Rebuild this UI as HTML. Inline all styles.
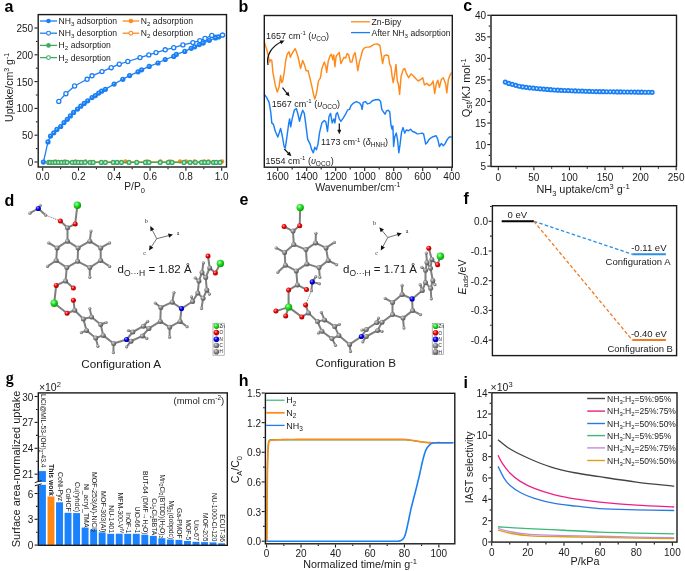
<!DOCTYPE html><html><head><meta charset="utf-8"><style>html,body{margin:0;padding:0;background:#fff;}svg{display:block;will-change:transform;}text{font-family:"Liberation Sans",sans-serif;}</style></head><body><svg width="685" height="571" viewBox="0 0 685 571" font-family='"Liberation Sans", sans-serif'><defs><radialGradient id="gZn" cx="0.38" cy="0.35" r="0.7"><stop offset="0" stop-color="#b8ffb8"/><stop offset="0.45" stop-color="#1ee01e"/><stop offset="1" stop-color="#0a900a"/></radialGradient><radialGradient id="gO" cx="0.38" cy="0.35" r="0.7"><stop offset="0" stop-color="#ffb0b0"/><stop offset="0.45" stop-color="#f00000"/><stop offset="1" stop-color="#a00000"/></radialGradient><radialGradient id="gN" cx="0.38" cy="0.35" r="0.7"><stop offset="0" stop-color="#a0a0ff"/><stop offset="0.45" stop-color="#0000f0"/><stop offset="1" stop-color="#00009a"/></radialGradient><radialGradient id="gC" cx="0.38" cy="0.35" r="0.7"><stop offset="0" stop-color="#d8d8d8"/><stop offset="0.45" stop-color="#8a8a8a"/><stop offset="1" stop-color="#4a4a4a"/></radialGradient><radialGradient id="gH" cx="0.38" cy="0.35" r="0.7"><stop offset="0" stop-color="#e0e0e0"/><stop offset="0.45" stop-color="#999999"/><stop offset="1" stop-color="#5a5a5a"/></radialGradient></defs><rect width="685" height="571" fill="#fff"/><line x1="47" y1="161.9" x2="222" y2="161.9" stroke="#ff8a1c" stroke-width="1.1" />
<circle cx="55.5" cy="161.5" r="2.2" fill="#ff8a1c"/>
<circle cx="64.8" cy="161.5" r="2.2" fill="#ff8a1c"/>
<circle cx="75.5" cy="161.5" r="2.2" fill="#ff8a1c"/>
<circle cx="85.5" cy="161.5" r="2.2" fill="#ff8a1c"/>
<circle cx="125.4" cy="161.5" r="2.2" fill="#ff8a1c"/>
<circle cx="147" cy="161.5" r="2.2" fill="#ff8a1c"/>
<circle cx="160.5" cy="161.5" r="2.2" fill="#ff8a1c"/>
<circle cx="170" cy="161.5" r="2.2" fill="#ff8a1c"/>
<circle cx="180" cy="161.5" r="2.2" fill="#ff8a1c"/>
<circle cx="186" cy="161.5" r="2.2" fill="#ff8a1c"/>
<circle cx="194.5" cy="161.5" r="2.2" fill="#ff8a1c"/>
<circle cx="204" cy="161.5" r="2.2" fill="#ff8a1c"/>
<circle cx="208.5" cy="161.5" r="2.2" fill="#ff8a1c"/>
<circle cx="222" cy="161.5" r="2.2" fill="#ff8a1c"/>
<line x1="47" y1="162.4" x2="220" y2="162.4" stroke="#3cab62" stroke-width="1.1" />
<circle cx="48.7" cy="162.4" r="1.9" fill="#c4e8cf" stroke="#3cab62" stroke-width="1.4"/>
<circle cx="50.2" cy="162.4" r="1.9" fill="#c4e8cf" stroke="#3cab62" stroke-width="1.4"/>
<circle cx="52.8" cy="162.4" r="1.9" fill="#c4e8cf" stroke="#3cab62" stroke-width="1.4"/>
<circle cx="55.3" cy="162.4" r="1.9" fill="#c4e8cf" stroke="#3cab62" stroke-width="1.4"/>
<circle cx="58.4" cy="162.4" r="1.9" fill="#c4e8cf" stroke="#3cab62" stroke-width="1.4"/>
<circle cx="61.5" cy="162.4" r="1.9" fill="#c4e8cf" stroke="#3cab62" stroke-width="1.4"/>
<circle cx="64.5" cy="162.4" r="1.9" fill="#c4e8cf" stroke="#3cab62" stroke-width="1.4"/>
<circle cx="67.1" cy="162.4" r="1.9" fill="#c4e8cf" stroke="#3cab62" stroke-width="1.4"/>
<circle cx="72.2" cy="162.4" r="1.9" fill="#c4e8cf" stroke="#3cab62" stroke-width="1.4"/>
<circle cx="75.3" cy="162.4" r="1.9" fill="#c4e8cf" stroke="#3cab62" stroke-width="1.4"/>
<circle cx="78.3" cy="162.4" r="1.9" fill="#c4e8cf" stroke="#3cab62" stroke-width="1.4"/>
<circle cx="81.4" cy="162.4" r="1.9" fill="#c4e8cf" stroke="#3cab62" stroke-width="1.4"/>
<circle cx="85" cy="162.4" r="1.9" fill="#c4e8cf" stroke="#3cab62" stroke-width="1.4"/>
<circle cx="90.1" cy="162.4" r="1.9" fill="#c4e8cf" stroke="#3cab62" stroke-width="1.4"/>
<circle cx="93.1" cy="162.4" r="1.9" fill="#c4e8cf" stroke="#3cab62" stroke-width="1.4"/>
<circle cx="101.3" cy="162.4" r="1.9" fill="#c4e8cf" stroke="#3cab62" stroke-width="1.4"/>
<circle cx="105.4" cy="162.4" r="1.9" fill="#c4e8cf" stroke="#3cab62" stroke-width="1.4"/>
<circle cx="113.2" cy="162.4" r="1.9" fill="#c4e8cf" stroke="#3cab62" stroke-width="1.4"/>
<circle cx="117.1" cy="162.4" r="1.9" fill="#c4e8cf" stroke="#3cab62" stroke-width="1.4"/>
<circle cx="121.4" cy="162.4" r="1.9" fill="#c4e8cf" stroke="#3cab62" stroke-width="1.4"/>
<circle cx="129" cy="162.4" r="1.9" fill="#c4e8cf" stroke="#3cab62" stroke-width="1.4"/>
<circle cx="136.7" cy="162.4" r="1.9" fill="#c4e8cf" stroke="#3cab62" stroke-width="1.4"/>
<circle cx="145.4" cy="162.4" r="1.9" fill="#c4e8cf" stroke="#3cab62" stroke-width="1.4"/>
<circle cx="148.9" cy="162.4" r="1.9" fill="#c4e8cf" stroke="#3cab62" stroke-width="1.4"/>
<circle cx="160.2" cy="162.4" r="1.9" fill="#c4e8cf" stroke="#3cab62" stroke-width="1.4"/>
<circle cx="168.3" cy="162.4" r="1.9" fill="#c4e8cf" stroke="#3cab62" stroke-width="1.4"/>
<circle cx="172.1" cy="162.4" r="1.9" fill="#c4e8cf" stroke="#3cab62" stroke-width="1.4"/>
<circle cx="184" cy="162.4" r="1.9" fill="#c4e8cf" stroke="#3cab62" stroke-width="1.4"/>
<circle cx="190.1" cy="162.4" r="1.9" fill="#c4e8cf" stroke="#3cab62" stroke-width="1.4"/>
<circle cx="195.4" cy="162.4" r="1.9" fill="#c4e8cf" stroke="#3cab62" stroke-width="1.4"/>
<circle cx="201.5" cy="162.4" r="1.9" fill="#c4e8cf" stroke="#3cab62" stroke-width="1.4"/>
<circle cx="204.8" cy="162.4" r="1.9" fill="#c4e8cf" stroke="#3cab62" stroke-width="1.4"/>
<circle cx="208.2" cy="162.4" r="1.9" fill="#c4e8cf" stroke="#3cab62" stroke-width="1.4"/>
<circle cx="213.4" cy="162.4" r="1.9" fill="#c4e8cf" stroke="#3cab62" stroke-width="1.4"/>
<circle cx="216.2" cy="162.4" r="1.9" fill="#c4e8cf" stroke="#3cab62" stroke-width="1.4"/>
<circle cx="220" cy="162.4" r="1.9" fill="#c4e8cf" stroke="#3cab62" stroke-width="1.4"/>
<polyline points="43.4,162.1 48,141.9 50.5,136.1 53.8,132.8 56.9,129.4 60.7,126.5 64,122.6 67.3,119.3 70.4,115.9 73.6,112.4 77.5,109.1 80.8,106.2 84.2,103.4 87.7,100.8 92,97.6 95.4,95.6 98.7,93.1 101.6,91.2 105.4,89.3 114.1,84.1 122.8,79.3 129.6,75.6 138,71.8 141.6,69.8 149.2,66.4 158,63 165.2,59.5 173.7,56.4 176.3,54.4 184.8,51.4 191.2,48.3 194.7,46.8 199.3,44.6 203.2,43.1 209.3,40.3 215.4,38 218.5,37 222.5,35.1" stroke="#1a7ff5" stroke-width="1.3" fill="none" stroke-linejoin="round" stroke-linecap="round" />
<circle cx="43.4" cy="162.1" r="2.6" fill="#1a7ff5"/>
<circle cx="43.1" cy="161.6" r="0.6" fill="#bfe0ff"/>
<circle cx="48" cy="141.9" r="2.6" fill="#1a7ff5"/>
<circle cx="47.7" cy="141.4" r="0.6" fill="#bfe0ff"/>
<circle cx="50.5" cy="136.1" r="2.6" fill="#1a7ff5"/>
<circle cx="50.2" cy="135.6" r="0.6" fill="#bfe0ff"/>
<circle cx="53.8" cy="132.8" r="2.6" fill="#1a7ff5"/>
<circle cx="53.5" cy="132.3" r="0.6" fill="#bfe0ff"/>
<circle cx="56.9" cy="129.4" r="2.6" fill="#1a7ff5"/>
<circle cx="56.6" cy="128.9" r="0.6" fill="#bfe0ff"/>
<circle cx="60.7" cy="126.5" r="2.6" fill="#1a7ff5"/>
<circle cx="60.4" cy="126" r="0.6" fill="#bfe0ff"/>
<circle cx="64" cy="122.6" r="2.6" fill="#1a7ff5"/>
<circle cx="63.7" cy="122.1" r="0.6" fill="#bfe0ff"/>
<circle cx="67.3" cy="119.3" r="2.6" fill="#1a7ff5"/>
<circle cx="67" cy="118.8" r="0.6" fill="#bfe0ff"/>
<circle cx="70.4" cy="115.9" r="2.6" fill="#1a7ff5"/>
<circle cx="70.1" cy="115.4" r="0.6" fill="#bfe0ff"/>
<circle cx="73.6" cy="112.4" r="2.6" fill="#1a7ff5"/>
<circle cx="73.3" cy="111.9" r="0.6" fill="#bfe0ff"/>
<circle cx="77.5" cy="109.1" r="2.6" fill="#1a7ff5"/>
<circle cx="77.2" cy="108.6" r="0.6" fill="#bfe0ff"/>
<circle cx="80.8" cy="106.2" r="2.6" fill="#1a7ff5"/>
<circle cx="80.5" cy="105.7" r="0.6" fill="#bfe0ff"/>
<circle cx="84.2" cy="103.4" r="2.6" fill="#1a7ff5"/>
<circle cx="83.9" cy="102.9" r="0.6" fill="#bfe0ff"/>
<circle cx="87.7" cy="100.8" r="2.6" fill="#1a7ff5"/>
<circle cx="87.4" cy="100.3" r="0.6" fill="#bfe0ff"/>
<circle cx="92" cy="97.6" r="2.6" fill="#1a7ff5"/>
<circle cx="91.7" cy="97.1" r="0.6" fill="#bfe0ff"/>
<circle cx="95.4" cy="95.6" r="2.6" fill="#1a7ff5"/>
<circle cx="95.1" cy="95.1" r="0.6" fill="#bfe0ff"/>
<circle cx="98.7" cy="93.1" r="2.6" fill="#1a7ff5"/>
<circle cx="98.4" cy="92.6" r="0.6" fill="#bfe0ff"/>
<circle cx="101.6" cy="91.2" r="2.6" fill="#1a7ff5"/>
<circle cx="101.3" cy="90.7" r="0.6" fill="#bfe0ff"/>
<circle cx="105.4" cy="89.3" r="2.6" fill="#1a7ff5"/>
<circle cx="105.1" cy="88.8" r="0.6" fill="#bfe0ff"/>
<circle cx="114.1" cy="84.1" r="2.6" fill="#1a7ff5"/>
<circle cx="113.8" cy="83.6" r="0.6" fill="#bfe0ff"/>
<circle cx="122.8" cy="79.3" r="2.6" fill="#1a7ff5"/>
<circle cx="122.5" cy="78.8" r="0.6" fill="#bfe0ff"/>
<circle cx="129.6" cy="75.6" r="2.6" fill="#1a7ff5"/>
<circle cx="129.3" cy="75.1" r="0.6" fill="#bfe0ff"/>
<circle cx="138" cy="71.8" r="2.6" fill="#1a7ff5"/>
<circle cx="137.7" cy="71.3" r="0.6" fill="#bfe0ff"/>
<circle cx="141.6" cy="69.8" r="2.6" fill="#1a7ff5"/>
<circle cx="141.3" cy="69.3" r="0.6" fill="#bfe0ff"/>
<circle cx="149.2" cy="66.4" r="2.6" fill="#1a7ff5"/>
<circle cx="148.9" cy="65.9" r="0.6" fill="#bfe0ff"/>
<circle cx="158" cy="63" r="2.6" fill="#1a7ff5"/>
<circle cx="157.7" cy="62.5" r="0.6" fill="#bfe0ff"/>
<circle cx="165.2" cy="59.5" r="2.6" fill="#1a7ff5"/>
<circle cx="164.9" cy="59" r="0.6" fill="#bfe0ff"/>
<circle cx="173.7" cy="56.4" r="2.6" fill="#1a7ff5"/>
<circle cx="173.4" cy="55.9" r="0.6" fill="#bfe0ff"/>
<circle cx="176.3" cy="54.4" r="2.6" fill="#1a7ff5"/>
<circle cx="176" cy="53.9" r="0.6" fill="#bfe0ff"/>
<circle cx="184.8" cy="51.4" r="2.6" fill="#1a7ff5"/>
<circle cx="184.5" cy="50.9" r="0.6" fill="#bfe0ff"/>
<circle cx="191.2" cy="48.3" r="2.6" fill="#1a7ff5"/>
<circle cx="190.9" cy="47.8" r="0.6" fill="#bfe0ff"/>
<circle cx="194.7" cy="46.8" r="2.6" fill="#1a7ff5"/>
<circle cx="194.4" cy="46.3" r="0.6" fill="#bfe0ff"/>
<circle cx="199.3" cy="44.6" r="2.6" fill="#1a7ff5"/>
<circle cx="199" cy="44.1" r="0.6" fill="#bfe0ff"/>
<circle cx="203.2" cy="43.1" r="2.6" fill="#1a7ff5"/>
<circle cx="202.9" cy="42.6" r="0.6" fill="#bfe0ff"/>
<circle cx="209.3" cy="40.3" r="2.6" fill="#1a7ff5"/>
<circle cx="209" cy="39.8" r="0.6" fill="#bfe0ff"/>
<circle cx="215.4" cy="38" r="2.6" fill="#1a7ff5"/>
<circle cx="215.1" cy="37.5" r="0.6" fill="#bfe0ff"/>
<circle cx="218.5" cy="37" r="2.6" fill="#1a7ff5"/>
<circle cx="218.2" cy="36.5" r="0.6" fill="#bfe0ff"/>
<circle cx="222.5" cy="35.1" r="2.6" fill="#1a7ff5"/>
<circle cx="222.2" cy="34.6" r="0.6" fill="#bfe0ff"/>
<polyline points="58.8,101.4 65.9,93.7 74.6,86 87.1,79.3 92,75.8 102,71.6 111.2,67.7 119.3,64.2 127.8,61.5 140,57.6 148.8,54.9 156,52.6 165.2,49.8 173.7,47.7 182.9,44.9 192.9,42.6 199.8,40.6 205,38.5 211.8,35.4 222.5,35.1" stroke="#1a7ff5" stroke-width="1.3" fill="none" stroke-linejoin="round" stroke-linecap="round" />
<circle cx="58.8" cy="101.4" r="2.05" fill="#fff" stroke="#1a7ff5" stroke-width="1.3"/>
<circle cx="65.9" cy="93.7" r="2.05" fill="#fff" stroke="#1a7ff5" stroke-width="1.3"/>
<circle cx="74.6" cy="86" r="2.05" fill="#fff" stroke="#1a7ff5" stroke-width="1.3"/>
<circle cx="87.1" cy="79.3" r="2.05" fill="#fff" stroke="#1a7ff5" stroke-width="1.3"/>
<circle cx="92" cy="75.8" r="2.05" fill="#fff" stroke="#1a7ff5" stroke-width="1.3"/>
<circle cx="102" cy="71.6" r="2.05" fill="#fff" stroke="#1a7ff5" stroke-width="1.3"/>
<circle cx="111.2" cy="67.7" r="2.05" fill="#fff" stroke="#1a7ff5" stroke-width="1.3"/>
<circle cx="119.3" cy="64.2" r="2.05" fill="#fff" stroke="#1a7ff5" stroke-width="1.3"/>
<circle cx="127.8" cy="61.5" r="2.05" fill="#fff" stroke="#1a7ff5" stroke-width="1.3"/>
<circle cx="140" cy="57.6" r="2.05" fill="#fff" stroke="#1a7ff5" stroke-width="1.3"/>
<circle cx="148.8" cy="54.9" r="2.05" fill="#fff" stroke="#1a7ff5" stroke-width="1.3"/>
<circle cx="156" cy="52.6" r="2.05" fill="#fff" stroke="#1a7ff5" stroke-width="1.3"/>
<circle cx="165.2" cy="49.8" r="2.05" fill="#fff" stroke="#1a7ff5" stroke-width="1.3"/>
<circle cx="173.7" cy="47.7" r="2.05" fill="#fff" stroke="#1a7ff5" stroke-width="1.3"/>
<circle cx="182.9" cy="44.9" r="2.05" fill="#fff" stroke="#1a7ff5" stroke-width="1.3"/>
<circle cx="192.9" cy="42.6" r="2.05" fill="#fff" stroke="#1a7ff5" stroke-width="1.3"/>
<circle cx="199.8" cy="40.6" r="2.05" fill="#fff" stroke="#1a7ff5" stroke-width="1.3"/>
<circle cx="205" cy="38.5" r="2.05" fill="#fff" stroke="#1a7ff5" stroke-width="1.3"/>
<circle cx="211.8" cy="35.4" r="2.05" fill="#fff" stroke="#1a7ff5" stroke-width="1.3"/>
<circle cx="222.5" cy="35.1" r="2.05" fill="#fff" stroke="#1a7ff5" stroke-width="1.3"/>
<rect x="38.2" y="14.6" width="188.3" height="152.4" fill="none" stroke="#1a1a1a" stroke-width="1.4"/>
<line x1="34.5" y1="162" x2="37.5" y2="162" stroke="#1a1a1a" stroke-width="1.1" />
<line x1="34.5" y1="135.2" x2="37.5" y2="135.2" stroke="#1a1a1a" stroke-width="1.1" />
<line x1="34.5" y1="108.4" x2="37.5" y2="108.4" stroke="#1a1a1a" stroke-width="1.1" />
<line x1="34.5" y1="81.6" x2="37.5" y2="81.6" stroke="#1a1a1a" stroke-width="1.1" />
<line x1="34.5" y1="54.8" x2="37.5" y2="54.8" stroke="#1a1a1a" stroke-width="1.1" />
<line x1="34.5" y1="28" x2="37.5" y2="28" stroke="#1a1a1a" stroke-width="1.1" />
<line x1="35.9" y1="148.6" x2="37.5" y2="148.6" stroke="#1a1a1a" stroke-width="1.1" />
<line x1="35.9" y1="121.8" x2="37.5" y2="121.8" stroke="#1a1a1a" stroke-width="1.1" />
<line x1="35.9" y1="95" x2="37.5" y2="95" stroke="#1a1a1a" stroke-width="1.1" />
<line x1="35.9" y1="68.2" x2="37.5" y2="68.2" stroke="#1a1a1a" stroke-width="1.1" />
<line x1="35.9" y1="41.4" x2="37.5" y2="41.4" stroke="#1a1a1a" stroke-width="1.1" />
<text x="33.2" y="166" font-size="10" text-anchor="end" font-weight="normal" fill="#1a1a1a" >0</text>
<text x="33.2" y="139.2" font-size="10" text-anchor="end" font-weight="normal" fill="#1a1a1a" >50</text>
<text x="33.2" y="112.4" font-size="10" text-anchor="end" font-weight="normal" fill="#1a1a1a" >100</text>
<text x="33.2" y="85.6" font-size="10" text-anchor="end" font-weight="normal" fill="#1a1a1a" >150</text>
<text x="33.2" y="58.8" font-size="10" text-anchor="end" font-weight="normal" fill="#1a1a1a" >200</text>
<text x="33.2" y="32" font-size="10" text-anchor="end" font-weight="normal" fill="#1a1a1a" >250</text>
<line x1="42.7" y1="167.7" x2="42.7" y2="170.7" stroke="#1a1a1a" stroke-width="1.1" />
<line x1="78.5" y1="167.7" x2="78.5" y2="170.7" stroke="#1a1a1a" stroke-width="1.1" />
<line x1="114.3" y1="167.7" x2="114.3" y2="170.7" stroke="#1a1a1a" stroke-width="1.1" />
<line x1="150.1" y1="167.7" x2="150.1" y2="170.7" stroke="#1a1a1a" stroke-width="1.1" />
<line x1="185.9" y1="167.7" x2="185.9" y2="170.7" stroke="#1a1a1a" stroke-width="1.1" />
<line x1="221.7" y1="167.7" x2="221.7" y2="170.7" stroke="#1a1a1a" stroke-width="1.1" />
<line x1="60.6" y1="167.7" x2="60.6" y2="169.3" stroke="#1a1a1a" stroke-width="1.1" />
<line x1="96.4" y1="167.7" x2="96.4" y2="169.3" stroke="#1a1a1a" stroke-width="1.1" />
<line x1="132.2" y1="167.7" x2="132.2" y2="169.3" stroke="#1a1a1a" stroke-width="1.1" />
<line x1="168" y1="167.7" x2="168" y2="169.3" stroke="#1a1a1a" stroke-width="1.1" />
<line x1="203.8" y1="167.7" x2="203.8" y2="169.3" stroke="#1a1a1a" stroke-width="1.1" />
<text x="42.7" y="180.4" font-size="10" text-anchor="middle" font-weight="normal" fill="#1a1a1a" >0.0</text>
<text x="78.5" y="180.4" font-size="10" text-anchor="middle" font-weight="normal" fill="#1a1a1a" >0.2</text>
<text x="114.3" y="180.4" font-size="10" text-anchor="middle" font-weight="normal" fill="#1a1a1a" >0.4</text>
<text x="150.1" y="180.4" font-size="10" text-anchor="middle" font-weight="normal" fill="#1a1a1a" >0.6</text>
<text x="185.9" y="180.4" font-size="10" text-anchor="middle" font-weight="normal" fill="#1a1a1a" >0.8</text>
<text x="221.7" y="180.4" font-size="10" text-anchor="middle" font-weight="normal" fill="#1a1a1a" >1.0</text>
<line x1="40" y1="21" x2="57" y2="21" stroke="#1a7ff5" stroke-width="1.3" />
<circle cx="48.5" cy="21" r="2.3" fill="#1a7ff5"/>
<text x="58.6" y="24" font-size="8.6" text-anchor="start" font-weight="normal" fill="#1a1a1a" >NH<tspan font-size="6.2" dy="2">3</tspan><tspan dy="-2"> adsorption</tspan></text>
<line x1="40" y1="33.2" x2="57" y2="33.2" stroke="#1a7ff5" stroke-width="1.3" />
<circle cx="48.5" cy="33.2" r="1.9" fill="#fff" stroke="#1a7ff5" stroke-width="1.1"/>
<text x="58.6" y="36.2" font-size="8.6" text-anchor="start" font-weight="normal" fill="#1a1a1a" >NH<tspan font-size="6.2" dy="2">3</tspan><tspan dy="-2"> desorption</tspan></text>
<line x1="40" y1="45.4" x2="57" y2="45.4" stroke="#3cab62" stroke-width="1.3" />
<circle cx="48.5" cy="45.4" r="2.3" fill="#3cab62"/>
<text x="58.6" y="48.4" font-size="8.6" text-anchor="start" font-weight="normal" fill="#1a1a1a" >H<tspan font-size="6.2" dy="2">2</tspan><tspan dy="-2"> adsorption</tspan></text>
<line x1="40" y1="57.6" x2="57" y2="57.6" stroke="#3cab62" stroke-width="1.3" />
<circle cx="48.5" cy="57.6" r="1.9" fill="#fff" stroke="#3cab62" stroke-width="1.1"/>
<text x="58.6" y="60.6" font-size="8.6" text-anchor="start" font-weight="normal" fill="#1a1a1a" >H<tspan font-size="6.2" dy="2">2</tspan><tspan dy="-2"> desorption</tspan></text>
<line x1="122.6" y1="21" x2="139.2" y2="21" stroke="#ff8a1c" stroke-width="1.3" />
<circle cx="130.9" cy="21" r="2.3" fill="#ff8a1c"/>
<text x="140.8" y="24" font-size="8.6" text-anchor="start" font-weight="normal" fill="#1a1a1a" >N<tspan font-size="6.2" dy="2">2</tspan><tspan dy="-2"> adsorption</tspan></text>
<line x1="122.6" y1="33.2" x2="139.2" y2="33.2" stroke="#ff8a1c" stroke-width="1.3" />
<circle cx="130.9" cy="33.2" r="1.9" fill="#fff" stroke="#ff8a1c" stroke-width="1.1"/>
<text x="140.8" y="36.2" font-size="8.6" text-anchor="start" font-weight="normal" fill="#1a1a1a" >N<tspan font-size="6.2" dy="2">2</tspan><tspan dy="-2"> desorption</tspan></text>
<text x="124.3" y="190.3" font-size="10.2" text-anchor="start" font-weight="normal" fill="#1a1a1a" >P/P<tspan font-size="7.5" dy="2.5">0</tspan></text>
<text transform="translate(13.2,87.4) rotate(-90)" font-size="10.5" text-anchor="middle" fill="#1a1a1a">Uptake/cm<tspan font-size="7" dy="-4">3</tspan><tspan dy="4"> g</tspan><tspan font-size="7" dy="-4">-1</tspan></text>
<text x="4.6" y="11.7" font-size="16" text-anchor="start" font-weight="bold" fill="#000" >a</text>
<polyline points="264.4,42.3 266.7,49.4 268.3,55.7 269.6,62.1 270.7,59.7 271.8,60.5 273,73.1 275.4,85.7 277.3,92 279,87.3 280.6,75.5 281.7,82.6 282.8,81 284.1,73.1 285.7,60.5 287.2,54.2 289.1,51.8 290.4,57.3 291.7,54.2 293.1,51.8 295.1,48.6 296.4,51.8 298,56.5 299.5,63.6 300.6,68.4 302.7,60.5 304.3,64.4 306.2,70.7 308.1,70.7 309.3,75.5 311.7,85.7 313.3,93.6 314.8,99.1 316.4,93.6 318.5,81 320.4,77.8 321.9,68.4 324.3,62.1 325.9,66.8 326.7,72.3 328.2,61.3 330.1,55.7 331.4,54.2 332.7,59.7 333.8,55 334.9,66.8 336.1,56.5 337.7,54.2 339.3,52.6 340.9,63.6 342.4,60.5 344,57.3 345.6,58.1 347.2,53.4 348.7,55 350.3,62.1 351.9,62.1 353.5,55.7 355.1,52.6 356.6,62.1 357.8,70.7 359.4,62.1 361,56.5 362.6,50.2 364.5,47.9 366.8,47.1 369.2,47.1 371.6,46 373.9,44.4 377.1,43.9 379.9,45.5 381,52.6 382.6,63.6 384.2,55.7 386.5,55 388.4,55.7 389.7,64.4 391,66.8 392.1,76.2 393.2,82.6 394.4,76.2 396,64.4 397.3,81 398.4,84.1 399.6,94.4 401.1,76.2 403.1,69.9 404.7,68.4 406.3,73.1 408.6,77.8 411,73.9 413,75.5 415.7,78.6 418.1,81 420.9,79.4 422.8,77.8 424.4,84.9 426.8,83.3 429.1,85.7 431.5,84.1 433.1,81 434.7,93.6 436.2,84.1 437.8,80.2 439.4,87.3 441.4,79.4 443.3,77.8 445.7,84.1 446.8,92.8 448.4,79.4 449.6,76.2 451.2,73.1" stroke="#ff8a1c" stroke-width="1.45" fill="none" stroke-linejoin="round" stroke-linecap="round" />
<polyline points="264.4,94.5 266.7,97.6 269.1,102.4 270.7,111.8 271.8,122.9 273.4,124.4 275.4,131.5 277.8,137 279.4,132.3 280.6,128.4 282.2,135.5 284.1,146.5 285.3,148.1 286.9,137 288.5,125.2 289.6,118.9 290.7,126.8 292.3,118.1 294.3,110.2 296.4,108.7 298,114.2 299.5,121.3 301.1,115 302.7,110.2 304.3,113.4 305.8,124.4 307.7,139.4 310.1,144.1 311.7,149.7 313.3,152.8 314.8,147.3 316.4,149.7 318,144.1 319.6,132.3 321.9,122.9 324.3,120.5 325.9,122.1 327.5,131.5 329,116.5 330.6,113.4 332.2,122.9 333.8,118.9 334.9,122.9 336.1,114.2 337.4,112.6 339.3,118.9 340.9,121.3 343.2,118.1 345.6,114.2 347.5,110.2 349.5,109.4 351.1,105.5 353.5,103.1 356.3,101.6 359.7,103.1 361.3,105.5 362.1,109.4 363.2,102.4 365.3,101.6 367.6,103.9 370,103.1 372.4,100.8 375.5,99.7 378.7,99.5 380.6,101.6 381.8,109.4 383.4,111.8 385,114.2 386.5,111 388.1,110.2 389.7,111.8 391,125.2 392.1,129.2 392.9,126 393.6,146.5 394.7,137 396.3,133.1 397.6,140.2 398.8,152.8 400,144.9 401.5,132.3 403.1,127.6 404.7,133.1 406.3,130 408.6,130.7 410.5,129.2 412.6,131.5 414.9,132.3 417.3,133.9 419.7,133.6 422,133.1 423.6,133.9 425.7,144.1 427.2,142.6 429.1,139.4 432.3,137 436.2,135.8 437.8,139.4 439.4,146.5 441.4,143.4 443.3,145.7 444.9,144.1 447.3,139.4 449.3,137 451.2,137" stroke="#1a7ff5" stroke-width="1.45" fill="none" stroke-linejoin="round" stroke-linecap="round" />
<rect x="264.3" y="15.5" width="188" height="151.7" fill="none" stroke="#1a1a1a" stroke-width="1.4"/>
<line x1="277.7" y1="167.9" x2="277.7" y2="170.9" stroke="#1a1a1a" stroke-width="1.1" />
<line x1="306.7" y1="167.9" x2="306.7" y2="170.9" stroke="#1a1a1a" stroke-width="1.1" />
<line x1="335.7" y1="167.9" x2="335.7" y2="170.9" stroke="#1a1a1a" stroke-width="1.1" />
<line x1="364.7" y1="167.9" x2="364.7" y2="170.9" stroke="#1a1a1a" stroke-width="1.1" />
<line x1="393.7" y1="167.9" x2="393.7" y2="170.9" stroke="#1a1a1a" stroke-width="1.1" />
<line x1="422.7" y1="167.9" x2="422.7" y2="170.9" stroke="#1a1a1a" stroke-width="1.1" />
<line x1="451.7" y1="167.9" x2="451.7" y2="170.9" stroke="#1a1a1a" stroke-width="1.1" />
<line x1="292.2" y1="167.9" x2="292.2" y2="169.5" stroke="#1a1a1a" stroke-width="1.1" />
<line x1="321.2" y1="167.9" x2="321.2" y2="169.5" stroke="#1a1a1a" stroke-width="1.1" />
<line x1="350.2" y1="167.9" x2="350.2" y2="169.5" stroke="#1a1a1a" stroke-width="1.1" />
<line x1="379.2" y1="167.9" x2="379.2" y2="169.5" stroke="#1a1a1a" stroke-width="1.1" />
<line x1="408.2" y1="167.9" x2="408.2" y2="169.5" stroke="#1a1a1a" stroke-width="1.1" />
<line x1="437.2" y1="167.9" x2="437.2" y2="169.5" stroke="#1a1a1a" stroke-width="1.1" />
<text x="277.7" y="180.4" font-size="10" text-anchor="middle" font-weight="normal" fill="#1a1a1a" >1600</text>
<text x="306.7" y="180.4" font-size="10" text-anchor="middle" font-weight="normal" fill="#1a1a1a" >1400</text>
<text x="335.7" y="180.4" font-size="10" text-anchor="middle" font-weight="normal" fill="#1a1a1a" >1200</text>
<text x="364.7" y="180.4" font-size="10" text-anchor="middle" font-weight="normal" fill="#1a1a1a" >1000</text>
<text x="393.7" y="180.4" font-size="10" text-anchor="middle" font-weight="normal" fill="#1a1a1a" >800</text>
<text x="422.7" y="180.4" font-size="10" text-anchor="middle" font-weight="normal" fill="#1a1a1a" >600</text>
<text x="451.7" y="180.4" font-size="10" text-anchor="middle" font-weight="normal" fill="#1a1a1a" >400</text>
<line x1="351" y1="21.8" x2="370" y2="21.8" stroke="#ff8a1c" stroke-width="1.3" />
<line x1="351" y1="32.6" x2="370" y2="32.6" stroke="#1a7ff5" stroke-width="1.3" />
<text x="371.6" y="24.8" font-size="8.6" text-anchor="start" font-weight="normal" fill="#1a1a1a" >Zn-Bipy</text>
<text x="371.6" y="35.6" font-size="8.6" text-anchor="start" font-weight="normal" fill="#1a1a1a" >After NH<tspan font-size="6.2" dy="2">3</tspan><tspan dy="-2">​</tspan> adsorption</text>
<text x="265.9" y="38.9" font-size="9" text-anchor="start" font-weight="normal" fill="#1a1a1a" >1657 cm<tspan font-size="6" dy="-3.5">-1</tspan><tspan dy="3.5">​</tspan> (<tspan font-style="italic">υ</tspan><tspan font-size="6.5" dy="2">CO</tspan><tspan dy="-2">​</tspan>)</text>
<text x="271.8" y="106.6" font-size="9" text-anchor="start" font-weight="normal" fill="#1a1a1a" >1567 cm<tspan font-size="6" dy="-3.5">-1</tspan><tspan dy="3.5">​</tspan> (<tspan font-style="italic">υ</tspan><tspan font-size="6.5" dy="2">OCO</tspan><tspan dy="-2">​</tspan>)</text>
<text x="265.5" y="163.9" font-size="9" text-anchor="start" font-weight="normal" fill="#1a1a1a" >1554 cm<tspan font-size="6" dy="-3.5">-1</tspan><tspan dy="3.5">​</tspan> (<tspan font-style="italic">υ</tspan><tspan font-size="6.5" dy="2">OCO</tspan><tspan dy="-2">​</tspan>)</text>
<text x="321.1" y="145.4" font-size="9" text-anchor="start" font-weight="normal" fill="#1a1a1a" >1173 cm<tspan font-size="6" dy="-3.5">-1</tspan><tspan dy="3.5">​</tspan> (<tspan font-style="italic">δ</tspan><tspan font-size="6.5" dy="2">HNH</tspan><tspan dy="-2">​</tspan>)</text>
<path d="M268,65 C266,55 272,46 282,41.5" stroke="#111" stroke-width="1.25" fill="none"/>
<polygon points="284.5,40.5 281.28,44.24 279.57,40.57" fill="#111"/>
<line x1="282.5" y1="87.6" x2="287.8" y2="94.5" stroke="#111" stroke-width="1.2" />
<polygon points="289.6,96.6 285.23,94.3 288.43,91.81" fill="#111"/>
<line x1="284.3" y1="149" x2="289.5" y2="154.3" stroke="#111" stroke-width="1.2" />
<polygon points="291.4,156.2 286.79,154.45 289.65,151.59" fill="#111"/>
<line x1="339.3" y1="123.5" x2="339.3" y2="131" stroke="#111" stroke-width="1.2" />
<polygon points="339.3,134.2 337.28,129.7 341.32,129.7" fill="#111"/>
<text x="315.2" y="191" font-size="10.5" text-anchor="start" font-weight="normal" fill="#1a1a1a" >Wavenumber/cm<tspan font-size="7" dy="-3.8">-1</tspan><tspan dy="3.8">​</tspan></text>
<text x="238.6" y="11.8" font-size="16" text-anchor="start" font-weight="bold" fill="#000" >b</text>
<rect x="491" y="15.3" width="185.5" height="151.2" fill="none" stroke="#1a1a1a" stroke-width="1.4"/>
<line x1="487.3" y1="15.3" x2="490.3" y2="15.3" stroke="#1a1a1a" stroke-width="1.1" />
<line x1="487.3" y1="36.85" x2="490.3" y2="36.85" stroke="#1a1a1a" stroke-width="1.1" />
<line x1="487.3" y1="58.4" x2="490.3" y2="58.4" stroke="#1a1a1a" stroke-width="1.1" />
<line x1="487.3" y1="79.95" x2="490.3" y2="79.95" stroke="#1a1a1a" stroke-width="1.1" />
<line x1="487.3" y1="101.5" x2="490.3" y2="101.5" stroke="#1a1a1a" stroke-width="1.1" />
<line x1="487.3" y1="123.05" x2="490.3" y2="123.05" stroke="#1a1a1a" stroke-width="1.1" />
<line x1="487.3" y1="144.6" x2="490.3" y2="144.6" stroke="#1a1a1a" stroke-width="1.1" />
<line x1="487.3" y1="166.15" x2="490.3" y2="166.15" stroke="#1a1a1a" stroke-width="1.1" />
<line x1="488.7" y1="155.38" x2="490.3" y2="155.38" stroke="#1a1a1a" stroke-width="1.1" />
<line x1="488.7" y1="133.82" x2="490.3" y2="133.82" stroke="#1a1a1a" stroke-width="1.1" />
<line x1="488.7" y1="112.27" x2="490.3" y2="112.27" stroke="#1a1a1a" stroke-width="1.1" />
<line x1="488.7" y1="90.72" x2="490.3" y2="90.72" stroke="#1a1a1a" stroke-width="1.1" />
<line x1="488.7" y1="69.17" x2="490.3" y2="69.17" stroke="#1a1a1a" stroke-width="1.1" />
<line x1="488.7" y1="47.62" x2="490.3" y2="47.62" stroke="#1a1a1a" stroke-width="1.1" />
<line x1="488.7" y1="26.07" x2="490.3" y2="26.07" stroke="#1a1a1a" stroke-width="1.1" />
<text x="486" y="19.3" font-size="10" text-anchor="end" font-weight="normal" fill="#1a1a1a" >40</text>
<text x="486" y="40.85" font-size="10" text-anchor="end" font-weight="normal" fill="#1a1a1a" >35</text>
<text x="486" y="62.4" font-size="10" text-anchor="end" font-weight="normal" fill="#1a1a1a" >30</text>
<text x="486" y="83.95" font-size="10" text-anchor="end" font-weight="normal" fill="#1a1a1a" >25</text>
<text x="486" y="105.5" font-size="10" text-anchor="end" font-weight="normal" fill="#1a1a1a" >20</text>
<text x="486" y="127.05" font-size="10" text-anchor="end" font-weight="normal" fill="#1a1a1a" >15</text>
<text x="486" y="148.6" font-size="10" text-anchor="end" font-weight="normal" fill="#1a1a1a" >10</text>
<text x="486" y="170.15" font-size="10" text-anchor="end" font-weight="normal" fill="#1a1a1a" >5</text>
<line x1="498.3" y1="167.2" x2="498.3" y2="170.2" stroke="#1a1a1a" stroke-width="1.1" />
<line x1="533.88" y1="167.2" x2="533.88" y2="170.2" stroke="#1a1a1a" stroke-width="1.1" />
<line x1="569.45" y1="167.2" x2="569.45" y2="170.2" stroke="#1a1a1a" stroke-width="1.1" />
<line x1="605.02" y1="167.2" x2="605.02" y2="170.2" stroke="#1a1a1a" stroke-width="1.1" />
<line x1="640.6" y1="167.2" x2="640.6" y2="170.2" stroke="#1a1a1a" stroke-width="1.1" />
<line x1="676.17" y1="167.2" x2="676.17" y2="170.2" stroke="#1a1a1a" stroke-width="1.1" />
<line x1="516.09" y1="167.2" x2="516.09" y2="168.8" stroke="#1a1a1a" stroke-width="1.1" />
<line x1="551.66" y1="167.2" x2="551.66" y2="168.8" stroke="#1a1a1a" stroke-width="1.1" />
<line x1="587.24" y1="167.2" x2="587.24" y2="168.8" stroke="#1a1a1a" stroke-width="1.1" />
<line x1="622.81" y1="167.2" x2="622.81" y2="168.8" stroke="#1a1a1a" stroke-width="1.1" />
<line x1="658.39" y1="167.2" x2="658.39" y2="168.8" stroke="#1a1a1a" stroke-width="1.1" />
<text x="498.3" y="180.7" font-size="10" text-anchor="middle" font-weight="normal" fill="#1a1a1a" >0</text>
<text x="533.88" y="180.7" font-size="10" text-anchor="middle" font-weight="normal" fill="#1a1a1a" >50</text>
<text x="569.45" y="180.7" font-size="10" text-anchor="middle" font-weight="normal" fill="#1a1a1a" >100</text>
<text x="605.02" y="180.7" font-size="10" text-anchor="middle" font-weight="normal" fill="#1a1a1a" >150</text>
<text x="640.6" y="180.7" font-size="10" text-anchor="middle" font-weight="normal" fill="#1a1a1a" >200</text>
<text x="676.17" y="180.7" font-size="10" text-anchor="middle" font-weight="normal" fill="#1a1a1a" >250</text>
<circle cx="505.3" cy="82.1" r="1.75" fill="#d0e7ff" stroke="#1a7ff5" stroke-width="1.65"/>
<circle cx="508.8" cy="83.4" r="1.75" fill="#d0e7ff" stroke="#1a7ff5" stroke-width="1.65"/>
<circle cx="512.29" cy="84.3" r="1.75" fill="#d0e7ff" stroke="#1a7ff5" stroke-width="1.65"/>
<circle cx="515.79" cy="85.3" r="1.75" fill="#d0e7ff" stroke="#1a7ff5" stroke-width="1.65"/>
<circle cx="519.28" cy="86.29" r="1.75" fill="#d0e7ff" stroke="#1a7ff5" stroke-width="1.65"/>
<circle cx="522.78" cy="86.9" r="1.75" fill="#d0e7ff" stroke="#1a7ff5" stroke-width="1.65"/>
<circle cx="526.27" cy="87.3" r="1.75" fill="#d0e7ff" stroke="#1a7ff5" stroke-width="1.65"/>
<circle cx="529.77" cy="87.8" r="1.75" fill="#d0e7ff" stroke="#1a7ff5" stroke-width="1.65"/>
<circle cx="533.26" cy="88.1" r="1.75" fill="#d0e7ff" stroke="#1a7ff5" stroke-width="1.65"/>
<circle cx="536.76" cy="88.45" r="1.75" fill="#d0e7ff" stroke="#1a7ff5" stroke-width="1.65"/>
<circle cx="540.25" cy="88.8" r="1.75" fill="#d0e7ff" stroke="#1a7ff5" stroke-width="1.65"/>
<circle cx="543.75" cy="89.1" r="1.75" fill="#d0e7ff" stroke="#1a7ff5" stroke-width="1.65"/>
<circle cx="547.24" cy="89.4" r="1.75" fill="#d0e7ff" stroke="#1a7ff5" stroke-width="1.65"/>
<circle cx="550.74" cy="89.69" r="1.75" fill="#d0e7ff" stroke="#1a7ff5" stroke-width="1.65"/>
<circle cx="554.23" cy="89.95" r="1.75" fill="#d0e7ff" stroke="#1a7ff5" stroke-width="1.65"/>
<circle cx="557.73" cy="90.19" r="1.75" fill="#d0e7ff" stroke="#1a7ff5" stroke-width="1.65"/>
<circle cx="561.22" cy="90.34" r="1.75" fill="#d0e7ff" stroke="#1a7ff5" stroke-width="1.65"/>
<circle cx="564.72" cy="90.48" r="1.75" fill="#d0e7ff" stroke="#1a7ff5" stroke-width="1.65"/>
<circle cx="568.21" cy="90.62" r="1.75" fill="#d0e7ff" stroke="#1a7ff5" stroke-width="1.65"/>
<circle cx="571.71" cy="90.77" r="1.75" fill="#d0e7ff" stroke="#1a7ff5" stroke-width="1.65"/>
<circle cx="575.2" cy="90.91" r="1.75" fill="#d0e7ff" stroke="#1a7ff5" stroke-width="1.65"/>
<circle cx="578.7" cy="91.01" r="1.75" fill="#d0e7ff" stroke="#1a7ff5" stroke-width="1.65"/>
<circle cx="582.2" cy="91.12" r="1.75" fill="#d0e7ff" stroke="#1a7ff5" stroke-width="1.65"/>
<circle cx="585.69" cy="91.23" r="1.75" fill="#d0e7ff" stroke="#1a7ff5" stroke-width="1.65"/>
<circle cx="589.19" cy="91.34" r="1.75" fill="#d0e7ff" stroke="#1a7ff5" stroke-width="1.65"/>
<circle cx="592.68" cy="91.45" r="1.75" fill="#d0e7ff" stroke="#1a7ff5" stroke-width="1.65"/>
<circle cx="596.18" cy="91.55" r="1.75" fill="#d0e7ff" stroke="#1a7ff5" stroke-width="1.65"/>
<circle cx="599.67" cy="91.63" r="1.75" fill="#d0e7ff" stroke="#1a7ff5" stroke-width="1.65"/>
<circle cx="603.17" cy="91.68" r="1.75" fill="#d0e7ff" stroke="#1a7ff5" stroke-width="1.65"/>
<circle cx="606.66" cy="91.73" r="1.75" fill="#d0e7ff" stroke="#1a7ff5" stroke-width="1.65"/>
<circle cx="610.16" cy="91.78" r="1.75" fill="#d0e7ff" stroke="#1a7ff5" stroke-width="1.65"/>
<circle cx="613.65" cy="91.83" r="1.75" fill="#d0e7ff" stroke="#1a7ff5" stroke-width="1.65"/>
<circle cx="617.15" cy="91.88" r="1.75" fill="#d0e7ff" stroke="#1a7ff5" stroke-width="1.65"/>
<circle cx="620.64" cy="91.94" r="1.75" fill="#d0e7ff" stroke="#1a7ff5" stroke-width="1.65"/>
<circle cx="624.14" cy="91.99" r="1.75" fill="#d0e7ff" stroke="#1a7ff5" stroke-width="1.65"/>
<circle cx="627.63" cy="92.03" r="1.75" fill="#d0e7ff" stroke="#1a7ff5" stroke-width="1.65"/>
<circle cx="631.13" cy="92.07" r="1.75" fill="#d0e7ff" stroke="#1a7ff5" stroke-width="1.65"/>
<circle cx="634.62" cy="92.11" r="1.75" fill="#d0e7ff" stroke="#1a7ff5" stroke-width="1.65"/>
<circle cx="638.12" cy="92.15" r="1.75" fill="#d0e7ff" stroke="#1a7ff5" stroke-width="1.65"/>
<circle cx="641.61" cy="92.18" r="1.75" fill="#d0e7ff" stroke="#1a7ff5" stroke-width="1.65"/>
<circle cx="645.11" cy="92.22" r="1.75" fill="#d0e7ff" stroke="#1a7ff5" stroke-width="1.65"/>
<circle cx="648.6" cy="92.26" r="1.75" fill="#d0e7ff" stroke="#1a7ff5" stroke-width="1.65"/>
<circle cx="652.1" cy="92.3" r="1.75" fill="#d0e7ff" stroke="#1a7ff5" stroke-width="1.65"/>
<text x="536.4" y="193.1" font-size="10.9" text-anchor="start" font-weight="normal" fill="#1a1a1a" >NH<tspan font-size="7.5" dy="2.5">3</tspan><tspan dy="-2.5">​</tspan> uptake/cm<tspan font-size="7.5" dy="-4">3</tspan><tspan dy="4">​</tspan> g<tspan font-size="7.8" dy="-4">-1</tspan><tspan dy="4">​</tspan></text>
<text transform="translate(469.8,87.8) rotate(-90)" font-size="11" text-anchor="middle" fill="#1a1a1a">Q<tspan font-size="8.8" dy="2.6">st</tspan><tspan dy="-2.6">​</tspan>/KJ mol<tspan font-size="7.6" dy="-4.2">-1</tspan><tspan dy="4.2">​</tspan></text>
<text x="463.2" y="10.7" font-size="16" text-anchor="start" font-weight="bold" fill="#000" >c</text>
<line x1="38.3" y1="208.5" x2="29.9" y2="213.2" stroke="#7f7f7f" stroke-width="2.0" stroke-linecap="round"/>
<line x1="38.3" y1="208.5" x2="40.3" y2="205.6" stroke="#7f7f7f" stroke-width="2.0" stroke-linecap="round"/>
<line x1="38.3" y1="208.5" x2="45.7" y2="215.2" stroke="#7f7f7f" stroke-width="2.0" stroke-linecap="round"/>
<line x1="60.4" y1="221.1" x2="67.5" y2="227.8" stroke="#7f7f7f" stroke-width="2.0" stroke-linecap="round"/>
<line x1="75.2" y1="223.9" x2="67.5" y2="227.8" stroke="#7f7f7f" stroke-width="2.0" stroke-linecap="round"/>
<line x1="75.2" y1="223.9" x2="77.4" y2="205.2" stroke="#7f7f7f" stroke-width="2.0" stroke-linecap="round"/>
<line x1="67.5" y1="227.8" x2="67.5" y2="241.2" stroke="#7f7f7f" stroke-width="2.0" stroke-linecap="round"/>
<line x1="67.5" y1="241.2" x2="57.1" y2="247.9" stroke="#7f7f7f" stroke-width="2.0" stroke-linecap="round"/>
<line x1="57.1" y1="247.9" x2="56.2" y2="260.5" stroke="#7f7f7f" stroke-width="2.0" stroke-linecap="round"/>
<line x1="56.2" y1="260.5" x2="66.8" y2="267.6" stroke="#7f7f7f" stroke-width="2.0" stroke-linecap="round"/>
<line x1="66.8" y1="267.6" x2="77.6" y2="261.3" stroke="#7f7f7f" stroke-width="2.0" stroke-linecap="round"/>
<line x1="77.6" y1="261.3" x2="78.1" y2="247.9" stroke="#7f7f7f" stroke-width="2.0" stroke-linecap="round"/>
<line x1="78.1" y1="247.9" x2="67.5" y2="241.2" stroke="#7f7f7f" stroke-width="2.0" stroke-linecap="round"/>
<line x1="78.1" y1="247.9" x2="89.8" y2="241.2" stroke="#7f7f7f" stroke-width="2.0" stroke-linecap="round"/>
<line x1="89.8" y1="241.2" x2="100.7" y2="247.9" stroke="#7f7f7f" stroke-width="2.0" stroke-linecap="round"/>
<line x1="100.7" y1="247.9" x2="100.7" y2="260.5" stroke="#7f7f7f" stroke-width="2.0" stroke-linecap="round"/>
<line x1="100.7" y1="260.5" x2="89.8" y2="267.6" stroke="#7f7f7f" stroke-width="2.0" stroke-linecap="round"/>
<line x1="89.8" y1="267.6" x2="77.6" y2="261.3" stroke="#7f7f7f" stroke-width="2.0" stroke-linecap="round"/>
<line x1="57.1" y1="247.9" x2="48.7" y2="242.9" stroke="#7f7f7f" stroke-width="2.0" stroke-linecap="round"/>
<line x1="56.2" y1="260.5" x2="47.5" y2="266.4" stroke="#7f7f7f" stroke-width="2.0" stroke-linecap="round"/>
<line x1="89.8" y1="241.2" x2="91" y2="231.1" stroke="#7f7f7f" stroke-width="2.0" stroke-linecap="round"/>
<line x1="100.7" y1="247.9" x2="109.6" y2="242.9" stroke="#7f7f7f" stroke-width="2.0" stroke-linecap="round"/>
<line x1="100.7" y1="260.5" x2="109.6" y2="266.4" stroke="#7f7f7f" stroke-width="2.0" stroke-linecap="round"/>
<line x1="89.8" y1="267.6" x2="89.8" y2="277.3" stroke="#7f7f7f" stroke-width="2.0" stroke-linecap="round"/>
<line x1="66.8" y1="267.6" x2="65.5" y2="281" stroke="#7f7f7f" stroke-width="2.0" stroke-linecap="round"/>
<line x1="65.5" y1="281" x2="56.2" y2="285.4" stroke="#7f7f7f" stroke-width="2.0" stroke-linecap="round"/>
<line x1="65.5" y1="281" x2="73.4" y2="288.1" stroke="#7f7f7f" stroke-width="2.0" stroke-linecap="round"/>
<line x1="56.2" y1="285.4" x2="54.2" y2="303.2" stroke="#7f7f7f" stroke-width="2.0" stroke-linecap="round"/>
<line x1="54.2" y1="303.2" x2="67.1" y2="313.3" stroke="#7f7f7f" stroke-width="2.0" stroke-linecap="round"/>
<line x1="67.1" y1="313.3" x2="74.7" y2="310.3" stroke="#7f7f7f" stroke-width="2.0" stroke-linecap="round"/>
<line x1="73.4" y1="300.2" x2="74.7" y2="310.3" stroke="#7f7f7f" stroke-width="2.0" stroke-linecap="round"/>
<line x1="74.7" y1="310.3" x2="83.4" y2="319" stroke="#7f7f7f" stroke-width="2.0" stroke-linecap="round"/>
<line x1="83.4" y1="319" x2="91.5" y2="317" stroke="#7f7f7f" stroke-width="2.0" stroke-linecap="round"/>
<line x1="91.5" y1="317" x2="100.7" y2="324.5" stroke="#7f7f7f" stroke-width="2.0" stroke-linecap="round"/>
<line x1="100.7" y1="324.5" x2="103.2" y2="335.4" stroke="#7f7f7f" stroke-width="2.0" stroke-linecap="round"/>
<line x1="103.2" y1="335.4" x2="95.7" y2="338" stroke="#7f7f7f" stroke-width="2.0" stroke-linecap="round"/>
<line x1="95.7" y1="338" x2="86.5" y2="330.4" stroke="#7f7f7f" stroke-width="2.0" stroke-linecap="round"/>
<line x1="86.5" y1="330.4" x2="83.4" y2="319" stroke="#7f7f7f" stroke-width="2.0" stroke-linecap="round"/>
<line x1="91.5" y1="317" x2="89.8" y2="308.6" stroke="#7f7f7f" stroke-width="2.0" stroke-linecap="round"/>
<line x1="100.7" y1="324.5" x2="106.1" y2="322.5" stroke="#7f7f7f" stroke-width="2.0" stroke-linecap="round"/>
<line x1="86.5" y1="330.4" x2="81.4" y2="332.6" stroke="#7f7f7f" stroke-width="2.0" stroke-linecap="round"/>
<line x1="95.7" y1="338" x2="97.9" y2="346.3" stroke="#7f7f7f" stroke-width="2.0" stroke-linecap="round"/>
<line x1="103.2" y1="335.4" x2="113.6" y2="343.5" stroke="#7f7f7f" stroke-width="2.0" stroke-linecap="round"/>
<line x1="113.6" y1="343.5" x2="113.4" y2="352.6" stroke="#7f7f7f" stroke-width="2.0" stroke-linecap="round"/>
<line x1="113.6" y1="343.5" x2="126.6" y2="339.5" stroke="#7f7f7f" stroke-width="2.0" stroke-linecap="round"/>
<line x1="126.6" y1="339.5" x2="132.8" y2="332" stroke="#7f7f7f" stroke-width="2.0" stroke-linecap="round"/>
<line x1="132.8" y1="332" x2="143.3" y2="326.2" stroke="#7f7f7f" stroke-width="2.0" stroke-linecap="round"/>
<line x1="143.3" y1="326.2" x2="148.9" y2="328.4" stroke="#7f7f7f" stroke-width="2.0" stroke-linecap="round"/>
<line x1="148.9" y1="328.4" x2="142.4" y2="336" stroke="#7f7f7f" stroke-width="2.0" stroke-linecap="round"/>
<line x1="142.4" y1="336" x2="131" y2="341.2" stroke="#7f7f7f" stroke-width="2.0" stroke-linecap="round"/>
<line x1="131" y1="341.2" x2="126.6" y2="339.5" stroke="#7f7f7f" stroke-width="2.0" stroke-linecap="round"/>
<line x1="132.8" y1="332" x2="128.4" y2="330.5" stroke="#7f7f7f" stroke-width="2.0" stroke-linecap="round"/>
<line x1="143.3" y1="326.2" x2="147.7" y2="321.4" stroke="#7f7f7f" stroke-width="2.0" stroke-linecap="round"/>
<line x1="142.4" y1="336" x2="146.8" y2="338.4" stroke="#7f7f7f" stroke-width="2.0" stroke-linecap="round"/>
<line x1="131" y1="341.2" x2="126.6" y2="346.8" stroke="#7f7f7f" stroke-width="2.0" stroke-linecap="round"/>
<line x1="148.9" y1="328.4" x2="160.3" y2="321.4" stroke="#7f7f7f" stroke-width="2.0" stroke-linecap="round"/>
<line x1="160.3" y1="321.4" x2="160.8" y2="307.4" stroke="#7f7f7f" stroke-width="2.0" stroke-linecap="round"/>
<line x1="160.8" y1="307.4" x2="172.2" y2="302.2" stroke="#7f7f7f" stroke-width="2.0" stroke-linecap="round"/>
<line x1="172.2" y1="302.2" x2="181.5" y2="308.6" stroke="#7f7f7f" stroke-width="2.0" stroke-linecap="round"/>
<line x1="181.5" y1="308.6" x2="180.1" y2="321.4" stroke="#7f7f7f" stroke-width="2.0" stroke-linecap="round"/>
<line x1="180.1" y1="321.4" x2="169.6" y2="327.2" stroke="#7f7f7f" stroke-width="2.0" stroke-linecap="round"/>
<line x1="169.6" y1="327.2" x2="160.3" y2="321.4" stroke="#7f7f7f" stroke-width="2.0" stroke-linecap="round"/>
<line x1="160.8" y1="307.4" x2="155.2" y2="303" stroke="#7f7f7f" stroke-width="2.0" stroke-linecap="round"/>
<line x1="172.2" y1="302.2" x2="174" y2="292.5" stroke="#7f7f7f" stroke-width="2.0" stroke-linecap="round"/>
<line x1="180.1" y1="321.4" x2="187.1" y2="326.7" stroke="#7f7f7f" stroke-width="2.0" stroke-linecap="round"/>
<line x1="169.6" y1="327.2" x2="169.6" y2="337.2" stroke="#7f7f7f" stroke-width="2.0" stroke-linecap="round"/>
<line x1="181.5" y1="308.6" x2="192.6" y2="301.5" stroke="#7f7f7f" stroke-width="2.0" stroke-linecap="round"/>
<line x1="192.6" y1="301.5" x2="191.5" y2="296.8" stroke="#7f7f7f" stroke-width="2.0" stroke-linecap="round"/>
<line x1="203.1" y1="298.3" x2="201.5" y2="308.5" stroke="#7f7f7f" stroke-width="2.0" stroke-linecap="round"/>
<line x1="192.6" y1="301.5" x2="197.8" y2="293.1" stroke="#7f7f7f" stroke-width="2.0" stroke-linecap="round"/>
<line x1="197.8" y1="293.1" x2="198.9" y2="281" stroke="#7f7f7f" stroke-width="2.0" stroke-linecap="round"/>
<line x1="198.9" y1="281" x2="202" y2="272.6" stroke="#7f7f7f" stroke-width="2.0" stroke-linecap="round"/>
<line x1="202" y1="272.6" x2="205.7" y2="277.5" stroke="#7f7f7f" stroke-width="2.0" stroke-linecap="round"/>
<line x1="205.7" y1="277.5" x2="206.8" y2="290" stroke="#7f7f7f" stroke-width="2.0" stroke-linecap="round"/>
<line x1="206.8" y1="290" x2="203.1" y2="298.3" stroke="#7f7f7f" stroke-width="2.0" stroke-linecap="round"/>
<line x1="203.1" y1="298.3" x2="197.8" y2="293.1" stroke="#7f7f7f" stroke-width="2.0" stroke-linecap="round"/>
<line x1="198.9" y1="281" x2="195.2" y2="277.8" stroke="#7f7f7f" stroke-width="2.0" stroke-linecap="round"/>
<line x1="202" y1="272.6" x2="203.4" y2="262.8" stroke="#7f7f7f" stroke-width="2.0" stroke-linecap="round"/>
<line x1="206.8" y1="290" x2="209.4" y2="294.1" stroke="#7f7f7f" stroke-width="2.0" stroke-linecap="round"/>
<line x1="205.7" y1="277.5" x2="209.7" y2="267.9" stroke="#7f7f7f" stroke-width="2.0" stroke-linecap="round"/>
<line x1="209.7" y1="267.9" x2="208" y2="256.1" stroke="#7f7f7f" stroke-width="2.0" stroke-linecap="round"/>
<line x1="209.7" y1="267.9" x2="215.4" y2="272.9" stroke="#7f7f7f" stroke-width="2.0" stroke-linecap="round"/>
<line x1="215.4" y1="272.9" x2="220.4" y2="263.5" stroke="#7f7f7f" stroke-width="2.0" stroke-linecap="round"/>
<line x1="45.7" y1="215.2" x2="60.4" y2="221.1" stroke="#555" stroke-width="0.7" stroke-dasharray="1.2,0.8"/>
<circle cx="29.9" cy="213.2" r="1.6" fill="url(#gH)"/>
<circle cx="40.3" cy="205.6" r="1.6" fill="url(#gH)"/>
<circle cx="45.7" cy="215.2" r="1.6" fill="url(#gH)"/>
<circle cx="48.7" cy="242.9" r="1.6" fill="url(#gH)"/>
<circle cx="47.5" cy="266.4" r="1.6" fill="url(#gH)"/>
<circle cx="91" cy="231.1" r="1.6" fill="url(#gH)"/>
<circle cx="109.6" cy="242.9" r="1.6" fill="url(#gH)"/>
<circle cx="109.6" cy="266.4" r="1.6" fill="url(#gH)"/>
<circle cx="89.8" cy="277.3" r="1.6" fill="url(#gH)"/>
<circle cx="89.8" cy="308.6" r="1.6" fill="url(#gH)"/>
<circle cx="106.1" cy="322.5" r="1.6" fill="url(#gH)"/>
<circle cx="81.4" cy="332.6" r="1.6" fill="url(#gH)"/>
<circle cx="97.9" cy="346.3" r="1.6" fill="url(#gH)"/>
<circle cx="113.4" cy="352.6" r="1.6" fill="url(#gH)"/>
<circle cx="128.4" cy="330.5" r="1.6" fill="url(#gH)"/>
<circle cx="147.7" cy="321.4" r="1.6" fill="url(#gH)"/>
<circle cx="146.8" cy="338.4" r="1.6" fill="url(#gH)"/>
<circle cx="126.6" cy="346.8" r="1.6" fill="url(#gH)"/>
<circle cx="155.2" cy="303" r="1.6" fill="url(#gH)"/>
<circle cx="174" cy="292.5" r="1.6" fill="url(#gH)"/>
<circle cx="187.1" cy="326.7" r="1.6" fill="url(#gH)"/>
<circle cx="169.6" cy="337.2" r="1.6" fill="url(#gH)"/>
<circle cx="191.5" cy="296.8" r="1.6" fill="url(#gH)"/>
<circle cx="201.5" cy="308.5" r="1.6" fill="url(#gH)"/>
<circle cx="195.2" cy="277.8" r="1.6" fill="url(#gH)"/>
<circle cx="203.4" cy="262.8" r="1.6" fill="url(#gH)"/>
<circle cx="209.4" cy="294.1" r="1.6" fill="url(#gH)"/>
<circle cx="67.5" cy="227.8" r="2.5" fill="url(#gC)"/>
<circle cx="67.5" cy="241.2" r="2.5" fill="url(#gC)"/>
<circle cx="57.1" cy="247.9" r="2.5" fill="url(#gC)"/>
<circle cx="56.2" cy="260.5" r="2.5" fill="url(#gC)"/>
<circle cx="66.8" cy="267.6" r="2.5" fill="url(#gC)"/>
<circle cx="77.6" cy="261.3" r="2.5" fill="url(#gC)"/>
<circle cx="78.1" cy="247.9" r="2.5" fill="url(#gC)"/>
<circle cx="89.8" cy="241.2" r="2.5" fill="url(#gC)"/>
<circle cx="100.7" cy="247.9" r="2.5" fill="url(#gC)"/>
<circle cx="100.7" cy="260.5" r="2.5" fill="url(#gC)"/>
<circle cx="89.8" cy="267.6" r="2.5" fill="url(#gC)"/>
<circle cx="65.5" cy="281" r="2.5" fill="url(#gC)"/>
<circle cx="74.7" cy="310.3" r="2.5" fill="url(#gC)"/>
<circle cx="83.4" cy="319" r="2.5" fill="url(#gC)"/>
<circle cx="91.5" cy="317" r="2.5" fill="url(#gC)"/>
<circle cx="100.7" cy="324.5" r="2.5" fill="url(#gC)"/>
<circle cx="103.2" cy="335.4" r="2.5" fill="url(#gC)"/>
<circle cx="95.7" cy="338" r="2.5" fill="url(#gC)"/>
<circle cx="86.5" cy="330.4" r="2.5" fill="url(#gC)"/>
<circle cx="113.6" cy="343.5" r="2.5" fill="url(#gC)"/>
<circle cx="132.8" cy="332" r="2.5" fill="url(#gC)"/>
<circle cx="143.3" cy="326.2" r="2.5" fill="url(#gC)"/>
<circle cx="148.9" cy="328.4" r="2.5" fill="url(#gC)"/>
<circle cx="142.4" cy="336" r="2.5" fill="url(#gC)"/>
<circle cx="131" cy="341.2" r="2.5" fill="url(#gC)"/>
<circle cx="160.3" cy="321.4" r="2.5" fill="url(#gC)"/>
<circle cx="160.8" cy="307.4" r="2.5" fill="url(#gC)"/>
<circle cx="172.2" cy="302.2" r="2.5" fill="url(#gC)"/>
<circle cx="180.1" cy="321.4" r="2.5" fill="url(#gC)"/>
<circle cx="169.6" cy="327.2" r="2.5" fill="url(#gC)"/>
<circle cx="192.6" cy="301.5" r="2.5" fill="url(#gC)"/>
<circle cx="197.8" cy="293.1" r="2.5" fill="url(#gC)"/>
<circle cx="198.9" cy="281" r="2.5" fill="url(#gC)"/>
<circle cx="202" cy="272.6" r="2.5" fill="url(#gC)"/>
<circle cx="205.7" cy="277.5" r="2.5" fill="url(#gC)"/>
<circle cx="206.8" cy="290" r="2.5" fill="url(#gC)"/>
<circle cx="203.1" cy="298.3" r="2.5" fill="url(#gC)"/>
<circle cx="209.7" cy="267.9" r="2.5" fill="url(#gC)"/>
<circle cx="38.3" cy="208.5" r="2.6" fill="url(#gN)"/>
<circle cx="126.6" cy="339.5" r="2.6" fill="url(#gN)"/>
<circle cx="181.5" cy="308.6" r="2.6" fill="url(#gN)"/>
<circle cx="60.4" cy="221.1" r="2.5" fill="url(#gO)"/>
<circle cx="75.2" cy="223.9" r="2.5" fill="url(#gO)"/>
<circle cx="56.2" cy="285.4" r="2.5" fill="url(#gO)"/>
<circle cx="73.4" cy="288.1" r="2.5" fill="url(#gO)"/>
<circle cx="67.1" cy="313.3" r="2.5" fill="url(#gO)"/>
<circle cx="73.4" cy="300.2" r="2.5" fill="url(#gO)"/>
<circle cx="208" cy="256.1" r="2.5" fill="url(#gO)"/>
<circle cx="215.4" cy="272.9" r="2.5" fill="url(#gO)"/>
<circle cx="77.4" cy="205.2" r="3.7" fill="url(#gZn)"/>
<circle cx="54.2" cy="303.2" r="3.7" fill="url(#gZn)"/>
<circle cx="220.4" cy="263.5" r="3.7" fill="url(#gZn)"/>
<line x1="156.7" y1="238.7" x2="152.38" y2="230.2" stroke="#222" stroke-width="0.65" />
<polygon points="150.3,226.1 154.34,229.2 150.42,231.2" fill="#111"/>
<text x="146.2" y="223.2" font-size="6" text-anchor="middle" font-weight="normal" fill="#222"  style="font-family:Liberation Serif">b</text>
<line x1="156.7" y1="238.7" x2="168.55" y2="235.65" stroke="#222" stroke-width="0.65" />
<polygon points="173,234.5 169.09,237.78 168,233.52" fill="#111"/>
<text x="178.2" y="235.3" font-size="6" text-anchor="middle" font-weight="normal" fill="#222"  style="font-family:Liberation Serif">a</text>
<line x1="156.7" y1="238.7" x2="151.53" y2="246.56" stroke="#222" stroke-width="0.65" />
<polygon points="149,250.4 149.69,245.35 153.37,247.77" fill="#111"/>
<text x="144.5" y="255" font-size="6" text-anchor="middle" font-weight="normal" fill="#222"  style="font-family:Liberation Serif">c</text>
<rect x="213" y="323.2" width="11.2" height="32" fill="#fff" stroke="#888" stroke-width="0.6"/>
<circle cx="216.4" cy="326.1" r="2.8" fill="url(#gZn)"/>
<text x="219.4" y="327.8" font-size="4.6" text-anchor="start" font-weight="normal" fill="#222" >Zn</text>
<circle cx="216.4" cy="332.6" r="2.8" fill="url(#gO)"/>
<text x="219.4" y="334.3" font-size="4.6" text-anchor="start" font-weight="normal" fill="#222" >O</text>
<circle cx="216.4" cy="339.2" r="2.8" fill="url(#gN)"/>
<text x="219.4" y="340.9" font-size="4.6" text-anchor="start" font-weight="normal" fill="#222" >N</text>
<circle cx="216.4" cy="345.5" r="2.8" fill="url(#gC)"/>
<text x="219.4" y="347.2" font-size="4.6" text-anchor="start" font-weight="normal" fill="#222" >C</text>
<circle cx="216.4" cy="351.7" r="2.8" fill="url(#gC)"/>
<text x="219.4" y="353.4" font-size="4.6" text-anchor="start" font-weight="normal" fill="#222" >H</text>
<text x="117.6" y="273.4" font-size="11.5" text-anchor="start" font-weight="normal" fill="#1a1a1a" >d<tspan font-size="8.5" dy="2.8">O···H</tspan><tspan dy="-2.8">​</tspan> = 1.82 Å</text>
<text x="121.2" y="367.5" font-size="11.7" text-anchor="middle" font-weight="normal" fill="#1a1a1a" >Configuration A</text>
<text x="4.4" y="205.7" font-size="16" text-anchor="start" font-weight="bold" fill="#000" >d</text>
<line x1="300.2" y1="207.6" x2="299.7" y2="225.8" stroke="#7f7f7f" stroke-width="2.0" stroke-linecap="round"/>
<line x1="299.7" y1="225.8" x2="293" y2="231.1" stroke="#7f7f7f" stroke-width="2.0" stroke-linecap="round"/>
<line x1="284.1" y1="226.6" x2="293" y2="231.1" stroke="#7f7f7f" stroke-width="2.0" stroke-linecap="round"/>
<line x1="293" y1="231.1" x2="293.8" y2="244.6" stroke="#7f7f7f" stroke-width="2.0" stroke-linecap="round"/>
<line x1="293.8" y1="244.6" x2="284.6" y2="252.4" stroke="#7f7f7f" stroke-width="2.0" stroke-linecap="round"/>
<line x1="284.6" y1="252.4" x2="285.4" y2="265.2" stroke="#7f7f7f" stroke-width="2.0" stroke-linecap="round"/>
<line x1="285.4" y1="265.2" x2="296.3" y2="270.9" stroke="#7f7f7f" stroke-width="2.0" stroke-linecap="round"/>
<line x1="296.3" y1="270.9" x2="306.9" y2="263.9" stroke="#7f7f7f" stroke-width="2.0" stroke-linecap="round"/>
<line x1="306.9" y1="263.9" x2="305.9" y2="249.6" stroke="#7f7f7f" stroke-width="2.0" stroke-linecap="round"/>
<line x1="305.9" y1="249.6" x2="293.8" y2="244.6" stroke="#7f7f7f" stroke-width="2.0" stroke-linecap="round"/>
<line x1="305.9" y1="249.6" x2="315.6" y2="242.9" stroke="#7f7f7f" stroke-width="2.0" stroke-linecap="round"/>
<line x1="315.6" y1="242.9" x2="326" y2="247.9" stroke="#7f7f7f" stroke-width="2.0" stroke-linecap="round"/>
<line x1="326" y1="247.9" x2="328.2" y2="260.5" stroke="#7f7f7f" stroke-width="2.0" stroke-linecap="round"/>
<line x1="328.2" y1="260.5" x2="319" y2="267.6" stroke="#7f7f7f" stroke-width="2.0" stroke-linecap="round"/>
<line x1="319" y1="267.6" x2="306.9" y2="263.9" stroke="#7f7f7f" stroke-width="2.0" stroke-linecap="round"/>
<line x1="284.6" y1="252.4" x2="276.2" y2="247.9" stroke="#7f7f7f" stroke-width="2.0" stroke-linecap="round"/>
<line x1="285.4" y1="265.2" x2="277.8" y2="272.3" stroke="#7f7f7f" stroke-width="2.0" stroke-linecap="round"/>
<line x1="315.6" y1="242.9" x2="315.9" y2="233.3" stroke="#7f7f7f" stroke-width="2.0" stroke-linecap="round"/>
<line x1="326" y1="247.9" x2="334.4" y2="242.4" stroke="#7f7f7f" stroke-width="2.0" stroke-linecap="round"/>
<line x1="328.2" y1="260.5" x2="336.6" y2="264.7" stroke="#7f7f7f" stroke-width="2.0" stroke-linecap="round"/>
<line x1="319" y1="267.6" x2="319.8" y2="277.3" stroke="#7f7f7f" stroke-width="2.0" stroke-linecap="round"/>
<line x1="296.3" y1="270.9" x2="297.4" y2="284.9" stroke="#7f7f7f" stroke-width="2.0" stroke-linecap="round"/>
<line x1="297.4" y1="284.9" x2="288.6" y2="290.1" stroke="#7f7f7f" stroke-width="2.0" stroke-linecap="round"/>
<line x1="297.4" y1="284.9" x2="306.5" y2="289.6" stroke="#7f7f7f" stroke-width="2.0" stroke-linecap="round"/>
<line x1="288.6" y1="290.1" x2="288.6" y2="307.1" stroke="#7f7f7f" stroke-width="2.0" stroke-linecap="round"/>
<line x1="288.6" y1="307.1" x2="275.9" y2="311.1" stroke="#7f7f7f" stroke-width="2.0" stroke-linecap="round"/>
<line x1="288.6" y1="307.1" x2="285.7" y2="316" stroke="#7f7f7f" stroke-width="2.0" stroke-linecap="round"/>
<line x1="288.6" y1="307.1" x2="301.8" y2="316.9" stroke="#7f7f7f" stroke-width="2.0" stroke-linecap="round"/>
<line x1="301.8" y1="316.9" x2="308.4" y2="312.9" stroke="#7f7f7f" stroke-width="2.0" stroke-linecap="round"/>
<line x1="305.6" y1="305" x2="308.4" y2="312.9" stroke="#7f7f7f" stroke-width="2.0" stroke-linecap="round"/>
<line x1="308.4" y1="312.9" x2="317.5" y2="321.6" stroke="#7f7f7f" stroke-width="2.0" stroke-linecap="round"/>
<line x1="312.3" y1="281.9" x2="315.8" y2="276.7" stroke="#7f7f7f" stroke-width="2.0" stroke-linecap="round"/>
<line x1="312.3" y1="281.9" x2="319.3" y2="283.7" stroke="#7f7f7f" stroke-width="2.0" stroke-linecap="round"/>
<line x1="312.3" y1="281.9" x2="311.4" y2="290.7" stroke="#7f7f7f" stroke-width="2.0" stroke-linecap="round"/>
<line x1="317.5" y1="321.6" x2="324.5" y2="319.9" stroke="#7f7f7f" stroke-width="2.0" stroke-linecap="round"/>
<line x1="324.5" y1="319.9" x2="334.7" y2="326.4" stroke="#7f7f7f" stroke-width="2.0" stroke-linecap="round"/>
<line x1="334.7" y1="326.4" x2="338.9" y2="335.6" stroke="#7f7f7f" stroke-width="2.0" stroke-linecap="round"/>
<line x1="338.9" y1="335.6" x2="331.9" y2="338.6" stroke="#7f7f7f" stroke-width="2.0" stroke-linecap="round"/>
<line x1="331.9" y1="338.6" x2="321.9" y2="331.3" stroke="#7f7f7f" stroke-width="2.0" stroke-linecap="round"/>
<line x1="321.9" y1="331.3" x2="317.5" y2="321.6" stroke="#7f7f7f" stroke-width="2.0" stroke-linecap="round"/>
<line x1="324.5" y1="319.9" x2="321.4" y2="312.4" stroke="#7f7f7f" stroke-width="2.0" stroke-linecap="round"/>
<line x1="334.7" y1="326.4" x2="339.4" y2="324.3" stroke="#7f7f7f" stroke-width="2.0" stroke-linecap="round"/>
<line x1="321.9" y1="331.3" x2="318.4" y2="333" stroke="#7f7f7f" stroke-width="2.0" stroke-linecap="round"/>
<line x1="331.9" y1="338.6" x2="335.5" y2="345.3" stroke="#7f7f7f" stroke-width="2.0" stroke-linecap="round"/>
<line x1="338.9" y1="335.6" x2="349.6" y2="344.4" stroke="#7f7f7f" stroke-width="2.0" stroke-linecap="round"/>
<line x1="349.6" y1="344.4" x2="350.5" y2="351.4" stroke="#7f7f7f" stroke-width="2.0" stroke-linecap="round"/>
<line x1="349.6" y1="344.4" x2="361.4" y2="336.5" stroke="#7f7f7f" stroke-width="2.0" stroke-linecap="round"/>
<line x1="361.4" y1="336.5" x2="366.3" y2="329.5" stroke="#7f7f7f" stroke-width="2.0" stroke-linecap="round"/>
<line x1="366.3" y1="329.5" x2="376.8" y2="322.5" stroke="#7f7f7f" stroke-width="2.0" stroke-linecap="round"/>
<line x1="376.8" y1="322.5" x2="382" y2="322.2" stroke="#7f7f7f" stroke-width="2.0" stroke-linecap="round"/>
<line x1="382" y1="322.2" x2="377.6" y2="330.4" stroke="#7f7f7f" stroke-width="2.0" stroke-linecap="round"/>
<line x1="377.6" y1="330.4" x2="366.3" y2="336.5" stroke="#7f7f7f" stroke-width="2.0" stroke-linecap="round"/>
<line x1="366.3" y1="336.5" x2="361.4" y2="336.5" stroke="#7f7f7f" stroke-width="2.0" stroke-linecap="round"/>
<line x1="366.3" y1="329.5" x2="361.9" y2="330" stroke="#7f7f7f" stroke-width="2.0" stroke-linecap="round"/>
<line x1="376.8" y1="322.5" x2="378.5" y2="318.1" stroke="#7f7f7f" stroke-width="2.0" stroke-linecap="round"/>
<line x1="377.6" y1="330.4" x2="382" y2="331.3" stroke="#7f7f7f" stroke-width="2.0" stroke-linecap="round"/>
<line x1="366.3" y1="336.5" x2="362.8" y2="341.8" stroke="#7f7f7f" stroke-width="2.0" stroke-linecap="round"/>
<line x1="382" y1="322.2" x2="392.5" y2="314.6" stroke="#7f7f7f" stroke-width="2.0" stroke-linecap="round"/>
<line x1="392.5" y1="314.6" x2="392.5" y2="302.4" stroke="#7f7f7f" stroke-width="2.0" stroke-linecap="round"/>
<line x1="392.5" y1="302.4" x2="402.1" y2="294.5" stroke="#7f7f7f" stroke-width="2.0" stroke-linecap="round"/>
<line x1="402.1" y1="294.5" x2="412.1" y2="298.9" stroke="#7f7f7f" stroke-width="2.0" stroke-linecap="round"/>
<line x1="412.1" y1="298.9" x2="412.6" y2="310.6" stroke="#7f7f7f" stroke-width="2.0" stroke-linecap="round"/>
<line x1="412.6" y1="310.6" x2="403" y2="318.1" stroke="#7f7f7f" stroke-width="2.0" stroke-linecap="round"/>
<line x1="403" y1="318.1" x2="392.5" y2="314.6" stroke="#7f7f7f" stroke-width="2.0" stroke-linecap="round"/>
<line x1="392.5" y1="302.4" x2="385.2" y2="298.4" stroke="#7f7f7f" stroke-width="2.0" stroke-linecap="round"/>
<line x1="402.1" y1="294.5" x2="402.1" y2="285.4" stroke="#7f7f7f" stroke-width="2.0" stroke-linecap="round"/>
<line x1="412.6" y1="310.6" x2="420.5" y2="314.6" stroke="#7f7f7f" stroke-width="2.0" stroke-linecap="round"/>
<line x1="403" y1="318.1" x2="403.9" y2="328.1" stroke="#7f7f7f" stroke-width="2.0" stroke-linecap="round"/>
<line x1="412.1" y1="298.9" x2="422.3" y2="290.4" stroke="#7f7f7f" stroke-width="2.0" stroke-linecap="round"/>
<line x1="422.3" y1="290.4" x2="420.2" y2="284.7" stroke="#7f7f7f" stroke-width="2.0" stroke-linecap="round"/>
<line x1="430.7" y1="288.3" x2="431.3" y2="298.8" stroke="#7f7f7f" stroke-width="2.0" stroke-linecap="round"/>
<line x1="422.3" y1="290.4" x2="425.5" y2="282.6" stroke="#7f7f7f" stroke-width="2.0" stroke-linecap="round"/>
<line x1="425.5" y1="282.6" x2="425.5" y2="270.3" stroke="#7f7f7f" stroke-width="2.0" stroke-linecap="round"/>
<line x1="425.5" y1="270.3" x2="427" y2="262.6" stroke="#7f7f7f" stroke-width="2.0" stroke-linecap="round"/>
<line x1="427" y1="262.6" x2="430.5" y2="268.2" stroke="#7f7f7f" stroke-width="2.0" stroke-linecap="round"/>
<line x1="430.5" y1="268.2" x2="432.8" y2="280.5" stroke="#7f7f7f" stroke-width="2.0" stroke-linecap="round"/>
<line x1="432.8" y1="280.5" x2="430.7" y2="288.3" stroke="#7f7f7f" stroke-width="2.0" stroke-linecap="round"/>
<line x1="430.7" y1="288.3" x2="425.5" y2="282.6" stroke="#7f7f7f" stroke-width="2.0" stroke-linecap="round"/>
<line x1="425.5" y1="270.3" x2="421.8" y2="267.3" stroke="#7f7f7f" stroke-width="2.0" stroke-linecap="round"/>
<line x1="427" y1="262.6" x2="426.3" y2="253.1" stroke="#7f7f7f" stroke-width="2.0" stroke-linecap="round"/>
<line x1="432.8" y1="280.5" x2="434.9" y2="284.7" stroke="#7f7f7f" stroke-width="2.0" stroke-linecap="round"/>
<line x1="430.5" y1="268.2" x2="431.8" y2="259.4" stroke="#7f7f7f" stroke-width="2.0" stroke-linecap="round"/>
<line x1="431.8" y1="259.4" x2="428.8" y2="248.2" stroke="#7f7f7f" stroke-width="2.0" stroke-linecap="round"/>
<line x1="431.8" y1="259.4" x2="437.6" y2="264.7" stroke="#7f7f7f" stroke-width="2.0" stroke-linecap="round"/>
<line x1="437.6" y1="264.7" x2="440.4" y2="256.3" stroke="#7f7f7f" stroke-width="2.0" stroke-linecap="round"/>
<line x1="311.4" y1="290.7" x2="305.6" y2="305" stroke="#555" stroke-width="0.7" stroke-dasharray="1.2,0.8"/>
<circle cx="276.2" cy="247.9" r="1.6" fill="url(#gH)"/>
<circle cx="277.8" cy="272.3" r="1.6" fill="url(#gH)"/>
<circle cx="315.9" cy="233.3" r="1.6" fill="url(#gH)"/>
<circle cx="334.4" cy="242.4" r="1.6" fill="url(#gH)"/>
<circle cx="336.6" cy="264.7" r="1.6" fill="url(#gH)"/>
<circle cx="319.8" cy="277.3" r="1.6" fill="url(#gH)"/>
<circle cx="315.8" cy="276.7" r="1.6" fill="url(#gH)"/>
<circle cx="319.3" cy="283.7" r="1.6" fill="url(#gH)"/>
<circle cx="311.4" cy="290.7" r="1.6" fill="url(#gH)"/>
<circle cx="321.4" cy="312.4" r="1.6" fill="url(#gH)"/>
<circle cx="339.4" cy="324.3" r="1.6" fill="url(#gH)"/>
<circle cx="318.4" cy="333" r="1.6" fill="url(#gH)"/>
<circle cx="335.5" cy="345.3" r="1.6" fill="url(#gH)"/>
<circle cx="350.5" cy="351.4" r="1.6" fill="url(#gH)"/>
<circle cx="361.9" cy="330" r="1.6" fill="url(#gH)"/>
<circle cx="378.5" cy="318.1" r="1.6" fill="url(#gH)"/>
<circle cx="382" cy="331.3" r="1.6" fill="url(#gH)"/>
<circle cx="362.8" cy="341.8" r="1.6" fill="url(#gH)"/>
<circle cx="385.2" cy="298.4" r="1.6" fill="url(#gH)"/>
<circle cx="402.1" cy="285.4" r="1.6" fill="url(#gH)"/>
<circle cx="420.5" cy="314.6" r="1.6" fill="url(#gH)"/>
<circle cx="403.9" cy="328.1" r="1.6" fill="url(#gH)"/>
<circle cx="420.2" cy="284.7" r="1.6" fill="url(#gH)"/>
<circle cx="431.3" cy="298.8" r="1.6" fill="url(#gH)"/>
<circle cx="421.8" cy="267.3" r="1.6" fill="url(#gH)"/>
<circle cx="426.3" cy="253.1" r="1.6" fill="url(#gH)"/>
<circle cx="434.9" cy="284.7" r="1.6" fill="url(#gH)"/>
<circle cx="293" cy="231.1" r="2.5" fill="url(#gC)"/>
<circle cx="293.8" cy="244.6" r="2.5" fill="url(#gC)"/>
<circle cx="284.6" cy="252.4" r="2.5" fill="url(#gC)"/>
<circle cx="285.4" cy="265.2" r="2.5" fill="url(#gC)"/>
<circle cx="296.3" cy="270.9" r="2.5" fill="url(#gC)"/>
<circle cx="306.9" cy="263.9" r="2.5" fill="url(#gC)"/>
<circle cx="305.9" cy="249.6" r="2.5" fill="url(#gC)"/>
<circle cx="315.6" cy="242.9" r="2.5" fill="url(#gC)"/>
<circle cx="326" cy="247.9" r="2.5" fill="url(#gC)"/>
<circle cx="328.2" cy="260.5" r="2.5" fill="url(#gC)"/>
<circle cx="319" cy="267.6" r="2.5" fill="url(#gC)"/>
<circle cx="297.4" cy="284.9" r="2.5" fill="url(#gC)"/>
<circle cx="308.4" cy="312.9" r="2.5" fill="url(#gC)"/>
<circle cx="317.5" cy="321.6" r="2.5" fill="url(#gC)"/>
<circle cx="324.5" cy="319.9" r="2.5" fill="url(#gC)"/>
<circle cx="334.7" cy="326.4" r="2.5" fill="url(#gC)"/>
<circle cx="338.9" cy="335.6" r="2.5" fill="url(#gC)"/>
<circle cx="331.9" cy="338.6" r="2.5" fill="url(#gC)"/>
<circle cx="321.9" cy="331.3" r="2.5" fill="url(#gC)"/>
<circle cx="349.6" cy="344.4" r="2.5" fill="url(#gC)"/>
<circle cx="366.3" cy="329.5" r="2.5" fill="url(#gC)"/>
<circle cx="376.8" cy="322.5" r="2.5" fill="url(#gC)"/>
<circle cx="382" cy="322.2" r="2.5" fill="url(#gC)"/>
<circle cx="377.6" cy="330.4" r="2.5" fill="url(#gC)"/>
<circle cx="366.3" cy="336.5" r="2.5" fill="url(#gC)"/>
<circle cx="392.5" cy="314.6" r="2.5" fill="url(#gC)"/>
<circle cx="392.5" cy="302.4" r="2.5" fill="url(#gC)"/>
<circle cx="402.1" cy="294.5" r="2.5" fill="url(#gC)"/>
<circle cx="412.6" cy="310.6" r="2.5" fill="url(#gC)"/>
<circle cx="403" cy="318.1" r="2.5" fill="url(#gC)"/>
<circle cx="422.3" cy="290.4" r="2.5" fill="url(#gC)"/>
<circle cx="425.5" cy="282.6" r="2.5" fill="url(#gC)"/>
<circle cx="425.5" cy="270.3" r="2.5" fill="url(#gC)"/>
<circle cx="427" cy="262.6" r="2.5" fill="url(#gC)"/>
<circle cx="430.5" cy="268.2" r="2.5" fill="url(#gC)"/>
<circle cx="432.8" cy="280.5" r="2.5" fill="url(#gC)"/>
<circle cx="430.7" cy="288.3" r="2.5" fill="url(#gC)"/>
<circle cx="431.8" cy="259.4" r="2.5" fill="url(#gC)"/>
<circle cx="312.3" cy="281.9" r="2.6" fill="url(#gN)"/>
<circle cx="361.4" cy="336.5" r="2.6" fill="url(#gN)"/>
<circle cx="412.1" cy="298.9" r="2.6" fill="url(#gN)"/>
<circle cx="284.1" cy="226.6" r="2.5" fill="url(#gO)"/>
<circle cx="299.7" cy="225.8" r="2.5" fill="url(#gO)"/>
<circle cx="288.6" cy="290.1" r="2.5" fill="url(#gO)"/>
<circle cx="306.5" cy="289.6" r="2.5" fill="url(#gO)"/>
<circle cx="275.9" cy="311.1" r="2.5" fill="url(#gO)"/>
<circle cx="285.7" cy="316" r="2.5" fill="url(#gO)"/>
<circle cx="301.8" cy="316.9" r="2.5" fill="url(#gO)"/>
<circle cx="305.6" cy="305" r="2.5" fill="url(#gO)"/>
<circle cx="428.8" cy="248.2" r="2.5" fill="url(#gO)"/>
<circle cx="437.6" cy="264.7" r="2.5" fill="url(#gO)"/>
<circle cx="300.2" cy="207.6" r="3.7" fill="url(#gZn)"/>
<circle cx="288.6" cy="307.1" r="3.7" fill="url(#gZn)"/>
<circle cx="440.4" cy="256.3" r="3.7" fill="url(#gZn)"/>
<line x1="387.8" y1="237.5" x2="382.32" y2="230.85" stroke="#222" stroke-width="0.65" />
<polygon points="379.4,227.3 384.02,229.45 380.63,232.25" fill="#111"/>
<text x="374.4" y="224.5" font-size="6" text-anchor="middle" font-weight="normal" fill="#222"  style="font-family:Liberation Serif">b</text>
<line x1="387.8" y1="237.5" x2="397.39" y2="234.62" stroke="#222" stroke-width="0.65" />
<polygon points="401.8,233.3 398.03,236.73 396.76,232.51" fill="#111"/>
<text x="407.1" y="233" font-size="6" text-anchor="middle" font-weight="normal" fill="#222"  style="font-family:Liberation Serif">a</text>
<line x1="387.8" y1="237.5" x2="382.99" y2="246.36" stroke="#222" stroke-width="0.65" />
<polygon points="380.8,250.4 381.06,245.31 384.93,247.41" fill="#111"/>
<text x="376.6" y="255.3" font-size="6" text-anchor="middle" font-weight="normal" fill="#222"  style="font-family:Liberation Serif">c</text>
<rect x="432.2" y="323.4" width="11.4" height="31.1" fill="#fff" stroke="#888" stroke-width="0.6"/>
<circle cx="435.6" cy="326.3" r="2.8" fill="url(#gZn)"/>
<text x="438.6" y="328" font-size="4.6" text-anchor="start" font-weight="normal" fill="#222" >Zn</text>
<circle cx="435.6" cy="332.8" r="2.8" fill="url(#gO)"/>
<text x="438.6" y="334.5" font-size="4.6" text-anchor="start" font-weight="normal" fill="#222" >O</text>
<circle cx="435.6" cy="339.4" r="2.8" fill="url(#gN)"/>
<text x="438.6" y="341.1" font-size="4.6" text-anchor="start" font-weight="normal" fill="#222" >N</text>
<circle cx="435.6" cy="345.7" r="2.8" fill="url(#gC)"/>
<text x="438.6" y="347.4" font-size="4.6" text-anchor="start" font-weight="normal" fill="#222" >C</text>
<circle cx="435.6" cy="351.9" r="2.8" fill="url(#gC)"/>
<text x="438.6" y="353.6" font-size="4.6" text-anchor="start" font-weight="normal" fill="#222" >H</text>
<text x="343" y="273.1" font-size="11.5" text-anchor="start" font-weight="normal" fill="#1a1a1a" >d<tspan font-size="8.5" dy="2.8">O···H</tspan><tspan dy="-2.8">​</tspan> = 1.71 Å</text>
<text x="355.8" y="367.1" font-size="11.7" text-anchor="middle" font-weight="normal" fill="#1a1a1a" >Configuration B</text>
<text x="239.4" y="204.8" font-size="16" text-anchor="start" font-weight="bold" fill="#000" >e</text>
<rect x="492.4" y="205.7" width="184.2" height="149.9" fill="none" stroke="#1a1a1a" stroke-width="1.4"/>
<line x1="488.7" y1="221.3" x2="491.7" y2="221.3" stroke="#1a1a1a" stroke-width="1.1" />
<line x1="488.7" y1="251" x2="491.7" y2="251" stroke="#1a1a1a" stroke-width="1.1" />
<line x1="488.7" y1="280.7" x2="491.7" y2="280.7" stroke="#1a1a1a" stroke-width="1.1" />
<line x1="488.7" y1="310.4" x2="491.7" y2="310.4" stroke="#1a1a1a" stroke-width="1.1" />
<line x1="488.7" y1="340.1" x2="491.7" y2="340.1" stroke="#1a1a1a" stroke-width="1.1" />
<line x1="490.1" y1="206.45" x2="491.7" y2="206.45" stroke="#1a1a1a" stroke-width="1.1" />
<line x1="490.1" y1="236.15" x2="491.7" y2="236.15" stroke="#1a1a1a" stroke-width="1.1" />
<line x1="490.1" y1="265.85" x2="491.7" y2="265.85" stroke="#1a1a1a" stroke-width="1.1" />
<line x1="490.1" y1="295.55" x2="491.7" y2="295.55" stroke="#1a1a1a" stroke-width="1.1" />
<line x1="490.1" y1="325.25" x2="491.7" y2="325.25" stroke="#1a1a1a" stroke-width="1.1" />
<text x="488" y="225.3" font-size="10" text-anchor="end" font-weight="normal" fill="#1a1a1a" >0.0</text>
<text x="488" y="255" font-size="10" text-anchor="end" font-weight="normal" fill="#1a1a1a" >-0.1</text>
<text x="488" y="284.7" font-size="10" text-anchor="end" font-weight="normal" fill="#1a1a1a" >-0.2</text>
<text x="488" y="314.4" font-size="10" text-anchor="end" font-weight="normal" fill="#1a1a1a" >-0.3</text>
<text x="488" y="344.1" font-size="10" text-anchor="end" font-weight="normal" fill="#1a1a1a" >-0.4</text>
<line x1="501.7" y1="221.3" x2="533.9" y2="221.3" stroke="#000" stroke-width="2" />
<line x1="632.3" y1="254.2" x2="665.9" y2="254.2" stroke="#2a8fe6" stroke-width="2" />
<line x1="632.3" y1="340.1" x2="665.9" y2="340.1" stroke="#f07a22" stroke-width="2" />
<line x1="533.9" y1="221.3" x2="632.3" y2="254.2" stroke="#2a8fe6" stroke-width="1.3" stroke-dasharray="3.5,2.2"/>
<line x1="533.9" y1="221.3" x2="632.3" y2="340.1" stroke="#f07a22" stroke-width="1.3" stroke-dasharray="3.5,2.2"/>
<text x="517.3" y="217.7" font-size="9.5" text-anchor="middle" font-weight="normal" fill="#1a1a1a" >0 eV</text>
<text x="648.9" y="250.5" font-size="9.5" text-anchor="middle" font-weight="normal" fill="#1a1a1a" >-0.11 eV</text>
<text x="638" y="264.9" font-size="9.5" text-anchor="middle" font-weight="normal" fill="#1a1a1a" >Configuration A</text>
<text x="648.9" y="336.8" font-size="9.5" text-anchor="middle" font-weight="normal" fill="#1a1a1a" >-0.40 eV</text>
<text x="640.2" y="351.9" font-size="9.5" text-anchor="middle" font-weight="normal" fill="#1a1a1a" >Configuration B</text>
<text transform="translate(465.6,277) rotate(-90)" font-size="10.5" text-anchor="middle" fill="#1a1a1a"><tspan font-style="italic">E</tspan><tspan font-size="7.5" dy="2.5">ads</tspan><tspan dy="-2.5">​</tspan>/eV</text>
<text x="463.5" y="203.8" font-size="16" text-anchor="start" font-weight="bold" fill="#000" >f</text>
<rect x="39" y="471.1" width="6.9" height="74.2" fill="#1a82ff"/>
<rect x="47.53" y="496.5" width="6.9" height="48.8" fill="#ff8716"/>
<rect x="56.06" y="502.3" width="6.9" height="43" fill="#1a82ff"/>
<rect x="64.59" y="512.8" width="6.9" height="32.5" fill="#1a82ff"/>
<rect x="73.12" y="513.1" width="6.9" height="32.2" fill="#1a82ff"/>
<rect x="81.65" y="527.6" width="6.9" height="17.7" fill="#1a82ff"/>
<rect x="90.18" y="529.4" width="6.9" height="15.9" fill="#1a82ff"/>
<rect x="98.71" y="532.4" width="6.9" height="12.9" fill="#1a82ff"/>
<rect x="107.24" y="533.8" width="6.9" height="11.5" fill="#1a82ff"/>
<rect x="115.77" y="533.7" width="6.9" height="11.6" fill="#1a82ff"/>
<rect x="124.3" y="533.8" width="6.9" height="11.5" fill="#1a82ff"/>
<rect x="132.83" y="533.8" width="6.9" height="11.5" fill="#1a82ff"/>
<rect x="141.36" y="534.7" width="6.9" height="10.6" fill="#1a82ff"/>
<rect x="149.89" y="535.9" width="6.9" height="9.4" fill="#1a82ff"/>
<rect x="158.42" y="538.2" width="6.9" height="7.1" fill="#1a82ff"/>
<rect x="166.95" y="539.5" width="6.9" height="5.8" fill="#1a82ff"/>
<rect x="175.48" y="539.9" width="6.9" height="5.4" fill="#1a82ff"/>
<rect x="184.01" y="541" width="6.9" height="4.3" fill="#1a82ff"/>
<rect x="192.54" y="541.8" width="6.9" height="3.5" fill="#1a82ff"/>
<rect x="201.07" y="542.1" width="6.9" height="3.2" fill="#1a82ff"/>
<rect x="209.6" y="542.4" width="6.9" height="2.9" fill="#1a82ff"/>
<rect x="218.13" y="543.3" width="6.9" height="2" fill="#1a82ff"/>
<rect x="38.9" y="482" width="7.2" height="2.8" fill="#fff"/>
<rect x="38.3" y="392.9" width="189" height="152.4" fill="none" stroke="#1a1a1a" stroke-width="1.4"/>
<rect x="35" y="481.6" width="5" height="3.6" fill="#fff"/>
<line x1="34.8" y1="482.6" x2="41.6" y2="480.6" stroke="#1a1a1a" stroke-width="1" />
<line x1="34.8" y1="485.8" x2="41.6" y2="483.8" stroke="#1a1a1a" stroke-width="1" />
<line x1="34.6" y1="396.5" x2="37.6" y2="396.5" stroke="#1a1a1a" stroke-width="1.1" />
<line x1="34.6" y1="422.39" x2="37.6" y2="422.39" stroke="#1a1a1a" stroke-width="1.1" />
<line x1="34.6" y1="448.28" x2="37.6" y2="448.28" stroke="#1a1a1a" stroke-width="1.1" />
<line x1="34.6" y1="474.17" x2="37.6" y2="474.17" stroke="#1a1a1a" stroke-width="1.1" />
<line x1="36" y1="409.44" x2="37.6" y2="409.44" stroke="#1a1a1a" stroke-width="1.1" />
<line x1="36" y1="435.33" x2="37.6" y2="435.33" stroke="#1a1a1a" stroke-width="1.1" />
<line x1="36" y1="461.23" x2="37.6" y2="461.23" stroke="#1a1a1a" stroke-width="1.1" />
<text x="33.4" y="400.5" font-size="10" text-anchor="end" font-weight="normal" fill="#1a1a1a" >30</text>
<text x="33.4" y="426.39" font-size="10" text-anchor="end" font-weight="normal" fill="#1a1a1a" >27</text>
<text x="33.4" y="452.28" font-size="10" text-anchor="end" font-weight="normal" fill="#1a1a1a" >24</text>
<text x="33.4" y="478.17" font-size="10" text-anchor="end" font-weight="normal" fill="#1a1a1a" >21</text>
<line x1="34.6" y1="493.5" x2="37.6" y2="493.5" stroke="#1a1a1a" stroke-width="1.1" />
<line x1="34.6" y1="519.3" x2="37.6" y2="519.3" stroke="#1a1a1a" stroke-width="1.1" />
<line x1="34.6" y1="545.1" x2="37.6" y2="545.1" stroke="#1a1a1a" stroke-width="1.1" />
<line x1="36" y1="506.4" x2="37.6" y2="506.4" stroke="#1a1a1a" stroke-width="1.1" />
<line x1="36" y1="532.2" x2="37.6" y2="532.2" stroke="#1a1a1a" stroke-width="1.1" />
<text x="33.4" y="497.5" font-size="10" text-anchor="end" font-weight="normal" fill="#1a1a1a" >6</text>
<text x="33.4" y="523.3" font-size="10" text-anchor="end" font-weight="normal" fill="#1a1a1a" >3</text>
<text x="33.4" y="549.1" font-size="10" text-anchor="end" font-weight="normal" fill="#1a1a1a" >0</text>
<text transform="translate(40.9,393.9) rotate(90)" font-size="6.8" font-weight="normal" fill="#1a1a1a" textLength="73.6" lengthAdjust="spacingAndGlyphs">LiCl@MIL-53-(OH)<tspan font-size="4.8" dy="1.4">2</tspan><tspan dy="-1.4">-43.4</tspan></text>
<text transform="translate(49.43,464.2) rotate(90)" font-size="6.8" font-weight="bold" fill="#1a1a1a" textLength="31.6" lengthAdjust="spacingAndGlyphs">This work</text>
<text transform="translate(57.96,472.1) rotate(90)" font-size="6.8" font-weight="normal" fill="#1a1a1a" textLength="29" lengthAdjust="spacingAndGlyphs">CoNi-Pyz</text>
<text transform="translate(66.49,488.3) rotate(90)" font-size="6.8" font-weight="normal" fill="#1a1a1a" textLength="23.5" lengthAdjust="spacingAndGlyphs">CoHCF</text>
<text transform="translate(75.02,482) rotate(90)" font-size="6.8" font-weight="normal" fill="#1a1a1a" textLength="30.1" lengthAdjust="spacingAndGlyphs">Cu(ryhdc)</text>
<text transform="translate(83.55,484.1) rotate(90)" font-size="6.8" font-weight="normal" fill="#1a1a1a" textLength="43.4" lengthAdjust="spacingAndGlyphs">Ni_acryl_TMA</text>
<text transform="translate(92.08,471.9) rotate(90)" font-size="6.8" font-weight="normal" fill="#1a1a1a" textLength="59.8" lengthAdjust="spacingAndGlyphs">MOF-253(Al)-NiCl<tspan font-size="4.8" dy="1.4">2</tspan></text>
<text transform="translate(100.61,491.1) rotate(90)" font-size="6.8" font-weight="normal" fill="#1a1a1a" textLength="41.3" lengthAdjust="spacingAndGlyphs">MOF-303(Al)</text>
<text transform="translate(109.14,505.2) rotate(90)" font-size="6.8" font-weight="normal" fill="#1a1a1a" textLength="27.9" lengthAdjust="spacingAndGlyphs">NU-1401</text>
<text transform="translate(117.67,492.6) rotate(90)" font-size="6.8" font-weight="normal" fill="#1a1a1a" textLength="40.6" lengthAdjust="spacingAndGlyphs">MFM-300-V<tspan font-size="4.8" dy="-2">IV</tspan></text>
<text transform="translate(126.2,512.3) rotate(90)" font-size="6.8" font-weight="normal" fill="#1a1a1a" textLength="20.9" lengthAdjust="spacingAndGlyphs">InOF-1</text>
<text transform="translate(134.73,506.7) rotate(90)" font-size="6.8" font-weight="normal" fill="#1a1a1a" textLength="26.5" lengthAdjust="spacingAndGlyphs">UiO-66-1</text>
<text transform="translate(143.26,470.9) rotate(90)" font-size="6.8" font-weight="normal" fill="#1a1a1a" textLength="63.7" lengthAdjust="spacingAndGlyphs">BUT-64 (DMF→H<tspan font-size="4.8" dy="1.4">2</tspan><tspan dy="-1.4">O)</tspan></text>
<text transform="translate(151.79,498.2) rotate(90)" font-size="6.8" font-weight="normal" fill="#1a1a1a" textLength="37.1" lengthAdjust="spacingAndGlyphs">Cu<tspan font-size="4.8" dy="1.4">2</tspan><tspan dy="-1.4">Cl</tspan><tspan font-size="4.8" dy="1.4">2</tspan><tspan dy="-1.4">BBTA</tspan></text>
<text transform="translate(160.32,474.4) rotate(90)" font-size="6.8" font-weight="normal" fill="#1a1a1a" textLength="63.7" lengthAdjust="spacingAndGlyphs">Mn<tspan font-size="4.8" dy="1.4">2</tspan><tspan dy="-1.4">Cl</tspan><tspan font-size="4.8" dy="1.4">2</tspan><tspan dy="-1.4">(BTDD)(H</tspan><tspan font-size="4.8" dy="1.4">2</tspan><tspan dy="-1.4">O)</tspan><tspan font-size="4.8" dy="1.4">2</tspan></text>
<text transform="translate(168.85,500.4) rotate(90)" font-size="6.8" font-weight="normal" fill="#1a1a1a" textLength="38.8" lengthAdjust="spacingAndGlyphs">Mg<tspan font-size="4.8" dy="1.4">2</tspan><tspan dy="-1.4">(dobpdc)</tspan></text>
<text transform="translate(177.38,507.9) rotate(90)" font-size="6.8" font-weight="normal" fill="#1a1a1a" textLength="30.7" lengthAdjust="spacingAndGlyphs">Ga-PMOF</text>
<text transform="translate(185.91,519.5) rotate(90)" font-size="6.8" font-weight="normal" fill="#1a1a1a" textLength="20.8" lengthAdjust="spacingAndGlyphs">MOF-5</text>
<text transform="translate(194.44,520.1) rotate(90)" font-size="6.8" font-weight="normal" fill="#1a1a1a" textLength="20.8" lengthAdjust="spacingAndGlyphs">Uio-67</text>
<text transform="translate(202.97,513.1) rotate(90)" font-size="6.8" font-weight="normal" fill="#1a1a1a" textLength="28.4" lengthAdjust="spacingAndGlyphs">MOF-205</text>
<text transform="translate(211.5,492.9) rotate(90)" font-size="6.8" font-weight="normal" fill="#1a1a1a" textLength="48.6" lengthAdjust="spacingAndGlyphs">NU-1000-Cl-120</text>
<text transform="translate(220.03,514.3) rotate(90)" font-size="6.8" font-weight="normal" fill="#1a1a1a" textLength="27.7" lengthAdjust="spacingAndGlyphs">ECUT-36</text>
<text x="38.9" y="390.5" font-size="10.5" text-anchor="start" font-weight="normal" fill="#1a1a1a" >×10<tspan font-size="7.5" dy="-4">2</tspan><tspan dy="4">​</tspan></text>
<text x="224.2" y="404.2" font-size="9.5" text-anchor="end" font-weight="normal" fill="#1a1a1a" >(mmol cm<tspan font-size="6.5" dy="-3.8">-2</tspan><tspan dy="3.8">​</tspan>)</text>
<text transform="translate(19.6,469) rotate(-90)" font-size="11" text-anchor="middle" fill="#1a1a1a">Surface area-normalized uptake</text>
<text x="5.8" y="382.8" font-size="16" font-weight="bold" fill="#000" style="font-family:Liberation Serif">g</text>
<polyline points="266.6,541.2 266.77,541.2 266.94,510.73 267.12,489.41 267.29,474.49 267.46,464.05 267.63,456.75 267.81,451.64 267.98,448.06 268.15,445.56 268.32,443.81 268.49,442.59 268.67,441.73 268.84,441.13 269.01,440.71 269.18,440.42 269.36,440.21 269.53,440.07 269.7,439.97 269.87,439.9 270.05,439.85 270.22,439.81 270.39,439.79 270.56,439.77 270.73,439.76 270.91,439.75 271.08,439.75 271.25,439.74 271.42,439.74 271.6,439.74 271.77,439.74 271.94,439.73 272.11,439.73 272.28,439.73 272.46,439.73 272.63,439.73 272.8,439.73 272.97,439.73 273.15,439.73 273.32,439.73 273.49,439.73 274.35,439.73 275.21,439.73 276.07,439.73 276.94,439.73 277.8,439.73 278.66,439.73 279.52,439.73 280.38,439.73 281.24,439.73 282.1,439.73 282.96,439.73 283.83,439.73 284.69,439.73 285.55,439.73 286.41,439.73 287.27,439.73 288.13,439.73 288.99,439.73 289.85,439.73 290.72,439.73 291.58,439.73 292.44,439.73 293.3,439.73 294.16,439.73 295.02,439.73 295.88,439.73 296.74,439.73 297.61,439.73 298.47,439.73 299.33,439.73 300.19,439.73 301.05,439.73 301.91,439.73 302.77,439.73 303.63,439.73 304.5,439.73 305.36,439.73 306.22,439.73 307.08,439.73 307.94,439.73 308.8,439.73 309.66,439.73 310.52,439.73 311.38,439.73 312.25,439.73 313.11,439.73 313.97,439.73 314.83,439.73 315.69,439.73 316.55,439.73 317.41,439.73 318.28,439.73 319.14,439.73 320,439.73 320.86,439.73 321.72,439.73 322.58,439.73 323.44,439.73 324.3,439.73 325.17,439.73 326.03,439.73 326.89,439.73 327.75,439.73 328.61,439.73 329.47,439.73 330.33,439.73 331.19,439.73 332.06,439.73 332.92,439.73 333.78,439.73 334.64,439.73 335.5,439.73 336.36,439.73 337.22,439.73 338.08,439.73 338.95,439.73 339.81,439.73 340.67,439.73 341.53,439.73 342.39,439.73 343.25,439.73 344.11,439.73 344.97,439.73 345.84,439.73 346.7,439.73 347.56,439.73 348.42,439.73 349.28,439.73 350.14,439.73 351,439.73 351.86,439.73 352.73,439.73 353.59,439.73 354.45,439.73 355.31,439.73 356.17,439.73 357.03,439.73 357.89,439.73 358.75,439.73 359.62,439.73 360.48,439.73 361.34,439.73 362.2,439.73 363.06,439.73 363.92,439.73 364.78,439.73 365.64,439.73 366.5,439.73 367.37,439.73 368.23,439.73 369.09,439.73 369.95,439.73 370.81,439.73 371.67,439.73 372.53,439.73 373.4,439.73 374.26,439.73 375.12,439.73 375.98,439.73 376.84,439.73 377.7,439.73 378.56,439.73 379.42,439.73 380.29,439.73 381.15,439.73 382.01,439.73 382.87,439.73 383.73,439.73 384.59,439.73 385.45,439.73 386.31,439.73 387.18,439.73 388.04,439.73 388.9,439.73 389.76,439.73 390.62,439.73 391.48,439.73 392.34,439.73 393.2,439.73 394.06,439.73 394.93,439.73 395.79,439.73 396.65,439.73 397.51,439.73 398.37,439.73 399.23,439.73 400.09,439.73 400.96,439.73 401.82,439.74 402.68,439.75 403.54,439.78 404.4,439.82 405.26,439.87 406.12,439.93 406.98,440 407.85,440.08 408.71,440.17 409.57,440.26 410.43,440.36 411.29,440.47 412.15,440.59 413.01,440.71 413.87,440.83 414.74,440.96 415.6,441.09 416.46,441.21 417.32,441.34 418.18,441.47 419.04,441.6 419.9,441.72 420.76,441.84 421.62,441.96 422.49,442.06 423.35,442.17 424.21,442.26 425.07,442.35 425.93,442.43 426.79,442.5 427.65,442.56 428.51,442.61 429.38,442.65 430.24,442.67 431.1,442.69 431.96,442.7 432.82,442.7 433.68,442.7 434.54,442.7 435.4,442.7 436.27,442.7 437.13,442.7 437.99,442.7 438.85,442.7 439.71,442.7 440.57,442.7 441.43,442.7 442.3,442.7 443.16,442.7 444.02,442.7 444.88,442.7 445.74,442.7 446.6,442.7 447.46,442.7 448.32,442.7 449.19,442.7 450.05,442.7 450.91,442.7 451.77,442.7" stroke="#3cb371" stroke-width="1.3" fill="none" stroke-linejoin="round" stroke-linecap="round" />
<polyline points="266.6,541.2 266.77,541.2 266.94,525.73 267.12,501.55 267.29,484.22 267.46,471.81 267.63,462.91 267.81,456.54 267.98,451.97 268.15,448.7 268.32,446.35 268.49,444.67 268.67,443.47 268.84,442.6 269.01,441.99 269.18,441.54 269.36,441.21 269.53,440.96 269.7,440.78 269.87,440.65 270.05,440.55 270.22,440.47 270.39,440.41 270.56,440.37 270.73,440.33 270.91,440.3 271.08,440.27 271.25,440.25 271.42,440.23 271.6,440.21 271.77,440.19 271.94,440.18 272.11,440.16 272.28,440.15 272.46,440.13 272.63,440.12 272.8,440.1 272.97,440.09 273.15,440.08 273.32,440.07 273.49,440.05 274.35,440 275.21,439.94 276.07,439.9 276.94,439.85 277.8,439.81 278.66,439.77 279.52,439.74 280.38,439.71 281.24,439.68 282.1,439.65 282.96,439.62 283.83,439.6 284.69,439.58 285.55,439.56 286.41,439.54 287.27,439.53 288.13,439.51 288.99,439.5 289.85,439.48 290.72,439.47 291.58,439.46 292.44,439.45 293.3,439.44 294.16,439.43 295.02,439.43 295.88,439.42 296.74,439.41 297.61,439.41 298.47,439.4 299.33,439.4 300.19,439.39 301.05,439.39 301.91,439.38 302.77,439.38 303.63,439.38 304.5,439.37 305.36,439.37 306.22,439.37 307.08,439.36 307.94,439.36 308.8,439.36 309.66,439.36 310.52,439.36 311.38,439.36 312.25,439.35 313.11,439.35 313.97,439.35 314.83,439.35 315.69,439.35 316.55,439.35 317.41,439.35 318.28,439.35 319.14,439.35 320,439.35 320.86,439.34 321.72,439.34 322.58,439.34 323.44,439.34 324.3,439.34 325.17,439.34 326.03,439.34 326.89,439.34 327.75,439.34 328.61,439.34 329.47,439.34 330.33,439.34 331.19,439.34 332.06,439.34 332.92,439.34 333.78,439.34 334.64,439.34 335.5,439.34 336.36,439.34 337.22,439.34 338.08,439.34 338.95,439.34 339.81,439.34 340.67,439.34 341.53,439.34 342.39,439.34 343.25,439.34 344.11,439.34 344.97,439.34 345.84,439.34 346.7,439.34 347.56,439.34 348.42,439.34 349.28,439.34 350.14,439.34 351,439.34 351.86,439.34 352.73,439.34 353.59,439.34 354.45,439.34 355.31,439.34 356.17,439.34 357.03,439.34 357.89,439.34 358.75,439.34 359.62,439.34 360.48,439.34 361.34,439.34 362.2,439.34 363.06,439.34 363.92,439.34 364.78,439.34 365.64,439.34 366.5,439.34 367.37,439.34 368.23,439.34 369.09,439.34 369.95,439.34 370.81,439.34 371.67,439.34 372.53,439.34 373.4,439.34 374.26,439.34 375.12,439.34 375.98,439.34 376.84,439.34 377.7,439.34 378.56,439.34 379.42,439.34 380.29,439.34 381.15,439.34 382.01,439.34 382.87,439.34 383.73,439.34 384.59,439.34 385.45,439.34 386.31,439.34 387.18,439.34 388.04,439.34 388.9,439.34 389.76,439.34 390.62,439.34 391.48,439.34 392.34,439.34 393.2,439.34 394.06,439.34 394.93,439.34 395.79,439.34 396.65,439.34 397.51,439.34 398.37,439.34 399.23,439.34 400.09,439.34 400.96,439.34 401.82,439.34 402.68,439.36 403.54,439.39 404.4,439.44 405.26,439.49 406.12,439.56 406.98,439.64 407.85,439.73 408.71,439.83 409.57,439.94 410.43,440.05 411.29,440.18 412.15,440.31 413.01,440.44 413.87,440.58 414.74,440.73 415.6,440.87 416.46,441.02 417.32,441.16 418.18,441.31 419.04,441.45 419.9,441.59 420.76,441.73 421.62,441.86 422.49,441.98 423.35,442.1 424.21,442.2 425.07,442.3 425.93,442.39 426.79,442.47 427.65,442.54 428.51,442.6 429.38,442.64 430.24,442.67 431.1,442.69 431.96,442.7 432.82,442.7 433.68,442.7 434.54,442.7 435.4,442.7 436.27,442.7 437.13,442.7 437.99,442.7 438.85,442.7 439.71,442.7 440.57,442.7 441.43,442.7 442.3,442.7 443.16,442.7 444.02,442.7 444.88,442.7 445.74,442.7 446.6,442.7 447.46,442.7 448.32,442.7 449.19,442.7 450.05,442.7 450.91,442.7 451.77,442.7" stroke="#ff8a1c" stroke-width="1.6" fill="none" stroke-linejoin="round" stroke-linecap="round" />
<path d="M266.6,541.2 C272.34,541.2 289.57,541.2 301.05,541.2 C312.53,541.2 324.02,541.2 335.5,541.2 C346.98,541.2 361.34,541.2 369.95,541.2 C378.56,541.2 383.16,541.2 387.18,541.2 C391.19,541.2 392.2,541.2 394.06,541.2 C395.93,541.2 397.11,541.36 398.37,541.2 C399.63,541.04 400.58,541.04 401.64,540.21 C402.71,539.39 403.71,538.98 404.74,536.26 C405.78,533.54 406.81,528.44 407.85,523.91 C408.88,519.38 409.71,514.36 410.95,509.09 C412.18,503.82 413.85,497.89 415.25,492.29 C416.66,486.7 418.15,480.75 419.39,475.5 C420.62,470.25 421.6,464.98 422.66,460.78 C423.72,456.58 424.52,453.04 425.76,450.3 C426.99,447.57 428.83,445.58 430.07,444.38 C431.3,443.17 432.13,443.37 433.17,443.09 C434.2,442.81 434.46,442.76 436.27,442.7 C438.07,442.63 441.12,442.7 444.02,442.7 C446.92,442.7 452.06,442.7 453.66,442.7" stroke="#1a7ff5" stroke-width="1.6" fill="none"/>
<rect x="265.4" y="393.3" width="189.4" height="150.5" fill="none" stroke="#1a1a1a" stroke-width="1.4"/>
<line x1="261.7" y1="541.2" x2="264.7" y2="541.2" stroke="#1a1a1a" stroke-width="1.1" />
<line x1="261.7" y1="511.56" x2="264.7" y2="511.56" stroke="#1a1a1a" stroke-width="1.1" />
<line x1="261.7" y1="481.92" x2="264.7" y2="481.92" stroke="#1a1a1a" stroke-width="1.1" />
<line x1="261.7" y1="452.28" x2="264.7" y2="452.28" stroke="#1a1a1a" stroke-width="1.1" />
<line x1="261.7" y1="422.64" x2="264.7" y2="422.64" stroke="#1a1a1a" stroke-width="1.1" />
<line x1="261.7" y1="393" x2="264.7" y2="393" stroke="#1a1a1a" stroke-width="1.1" />
<line x1="263.1" y1="526.38" x2="264.7" y2="526.38" stroke="#1a1a1a" stroke-width="1.1" />
<line x1="263.1" y1="496.74" x2="264.7" y2="496.74" stroke="#1a1a1a" stroke-width="1.1" />
<line x1="263.1" y1="467.1" x2="264.7" y2="467.1" stroke="#1a1a1a" stroke-width="1.1" />
<line x1="263.1" y1="437.46" x2="264.7" y2="437.46" stroke="#1a1a1a" stroke-width="1.1" />
<line x1="263.1" y1="407.82" x2="264.7" y2="407.82" stroke="#1a1a1a" stroke-width="1.1" />
<text x="261" y="545.2" font-size="10" text-anchor="end" font-weight="normal" fill="#1a1a1a" >0.0</text>
<text x="261" y="515.56" font-size="10" text-anchor="end" font-weight="normal" fill="#1a1a1a" >0.3</text>
<text x="261" y="485.92" font-size="10" text-anchor="end" font-weight="normal" fill="#1a1a1a" >0.6</text>
<text x="261" y="456.28" font-size="10" text-anchor="end" font-weight="normal" fill="#1a1a1a" >0.9</text>
<text x="261" y="426.64" font-size="10" text-anchor="end" font-weight="normal" fill="#1a1a1a" >1.2</text>
<text x="261" y="397" font-size="10" text-anchor="end" font-weight="normal" fill="#1a1a1a" >1.5</text>
<line x1="266.6" y1="544.5" x2="266.6" y2="547.5" stroke="#1a1a1a" stroke-width="1.1" />
<line x1="301.05" y1="544.5" x2="301.05" y2="547.5" stroke="#1a1a1a" stroke-width="1.1" />
<line x1="335.5" y1="544.5" x2="335.5" y2="547.5" stroke="#1a1a1a" stroke-width="1.1" />
<line x1="369.95" y1="544.5" x2="369.95" y2="547.5" stroke="#1a1a1a" stroke-width="1.1" />
<line x1="404.4" y1="544.5" x2="404.4" y2="547.5" stroke="#1a1a1a" stroke-width="1.1" />
<line x1="438.85" y1="544.5" x2="438.85" y2="547.5" stroke="#1a1a1a" stroke-width="1.1" />
<line x1="283.83" y1="544.5" x2="283.83" y2="546.1" stroke="#1a1a1a" stroke-width="1.1" />
<line x1="318.28" y1="544.5" x2="318.28" y2="546.1" stroke="#1a1a1a" stroke-width="1.1" />
<line x1="352.73" y1="544.5" x2="352.73" y2="546.1" stroke="#1a1a1a" stroke-width="1.1" />
<line x1="387.18" y1="544.5" x2="387.18" y2="546.1" stroke="#1a1a1a" stroke-width="1.1" />
<line x1="421.62" y1="544.5" x2="421.62" y2="546.1" stroke="#1a1a1a" stroke-width="1.1" />
<text x="266.6" y="557.1" font-size="10" text-anchor="middle" font-weight="normal" fill="#1a1a1a" >0</text>
<text x="301.05" y="557.1" font-size="10" text-anchor="middle" font-weight="normal" fill="#1a1a1a" >20</text>
<text x="335.5" y="557.1" font-size="10" text-anchor="middle" font-weight="normal" fill="#1a1a1a" >40</text>
<text x="369.95" y="557.1" font-size="10" text-anchor="middle" font-weight="normal" fill="#1a1a1a" >60</text>
<text x="404.4" y="557.1" font-size="10" text-anchor="middle" font-weight="normal" fill="#1a1a1a" >80</text>
<text x="438.85" y="557.1" font-size="10" text-anchor="middle" font-weight="normal" fill="#1a1a1a" >100</text>
<line x1="266.1" y1="400.2" x2="284.6" y2="400.2" stroke="#3cb371" stroke-width="1.2" />
<line x1="266.1" y1="412.8" x2="284.6" y2="412.8" stroke="#ff8a1c" stroke-width="1.8" />
<line x1="266.1" y1="425.4" x2="284.6" y2="425.4" stroke="#1a7ff5" stroke-width="1.3" />
<text x="286.2" y="403.3" font-size="9" text-anchor="start" font-weight="normal" fill="#1a1a1a" >H<tspan font-size="6.5" dy="2.2">2</tspan><tspan dy="-2.2">​</tspan></text>
<text x="286.2" y="415.9" font-size="9" text-anchor="start" font-weight="normal" fill="#1a1a1a" >N<tspan font-size="6.5" dy="2.2">2</tspan><tspan dy="-2.2">​</tspan></text>
<text x="286.2" y="428.5" font-size="9" text-anchor="start" font-weight="normal" fill="#1a1a1a" >NH<tspan font-size="6.5" dy="2.2">3</tspan><tspan dy="-2.2">​</tspan></text>
<text x="303.3" y="568.2" font-size="10.75" text-anchor="start" font-weight="normal" fill="#1a1a1a" >Normalized time/min g<tspan font-size="7.7" dy="-4">-1</tspan><tspan dy="4">​</tspan></text>
<text transform="translate(239.3,469.7) rotate(-90)" font-size="10.5" text-anchor="middle" fill="#1a1a1a">C<tspan font-size="7.5" dy="2.5">A</tspan><tspan dy="-2.5">​</tspan>/C<tspan font-size="7.5" dy="2.5">0</tspan><tspan dy="-2.5">​</tspan></text>
<text x="238.8" y="386" font-size="16" text-anchor="start" font-weight="bold" fill="#000" >h</text>
<path d="M498.02,439.67 C500.04,441.24 505.07,445.97 510.13,449.06 C515.19,452.16 521.67,455.27 528.38,458.24 C535.1,461.21 542.72,464.46 550.43,466.88 C558.14,469.3 566.42,471.12 574.64,472.75 C582.86,474.39 589.49,475.15 599.76,476.7 C610.03,478.25 623.85,480.45 636.26,482.03 C648.67,483.62 667.88,485.5 674.21,486.2" stroke="#444444" stroke-width="1.3" fill="none"/>
<path d="M498.02,455.25 C498.72,456.57 500.16,460.14 502.18,463.15 C504.2,466.15 507.12,470.24 510.13,473.29 C513.14,476.33 516.21,478.87 520.25,481.39 C524.29,483.92 528.62,486.2 534.35,488.44 C540.07,490.68 547.54,493.06 554.58,494.84 C561.63,496.62 569.1,497.9 576.63,499.11 C584.16,500.32 589.82,501.08 599.76,502.09 C609.7,503.11 623.85,504.37 636.26,505.19 C648.67,506.01 667.88,506.7 674.21,507" stroke="#ee1f84" stroke-width="1.3" fill="none"/>
<path d="M498.02,466.35 C499.05,468.34 502.15,475.12 504.17,478.3 C506.19,481.48 507.45,483.08 510.13,485.45 C512.81,487.81 516.21,490.32 520.25,492.49 C524.29,494.66 528.62,496.63 534.35,498.47 C540.07,500.3 547.54,502.2 554.58,503.48 C561.63,504.76 569.1,505.3 576.63,506.15 C584.16,507 589.82,508 599.76,508.6 C609.7,509.21 623.85,509.46 636.26,509.78 C648.67,510.1 667.88,510.4 674.21,510.52" stroke="#2a78e4" stroke-width="1.3" fill="none"/>
<path d="M498.02,526.74 C502.99,527.06 516.85,528.08 527.84,528.66 C538.83,529.25 551.99,529.69 563.98,530.26 C575.97,530.83 587.71,531.61 599.76,532.08 C611.81,532.54 623.85,532.75 636.26,533.04 C648.67,533.32 667.88,533.66 674.21,533.78" stroke="#3cb878" stroke-width="1.3" fill="none"/>
<path d="M498.02,528.34 C500.04,528.89 504.77,530.64 510.13,531.65 C515.49,532.66 521.21,533.77 530.19,534.42 C539.16,535.08 552.39,535.3 563.98,535.6 C575.57,535.9 587.71,535.99 599.76,536.24 C611.81,536.49 623.85,536.84 636.26,537.09 C648.67,537.34 667.88,537.63 674.21,537.73" stroke="#c58be6" stroke-width="1.3" fill="none"/>
<path d="M498.02,530.05 C500.04,530.58 504.77,532.29 510.13,533.25 C515.49,534.21 521.21,535.22 530.19,535.81 C539.16,536.4 552.39,536.5 563.98,536.77 C575.57,537.04 587.71,537.18 599.76,537.41 C611.81,537.64 623.85,537.95 636.26,538.16 C648.67,538.37 667.88,538.6 674.21,538.69" stroke="#d9a01a" stroke-width="1.3" fill="none"/>
<rect x="491.9" y="392.8" width="185.1" height="149.3" fill="none" stroke="#1a1a1a" stroke-width="1.4"/>
<line x1="488.2" y1="542" x2="491.2" y2="542" stroke="#1a1a1a" stroke-width="1.1" />
<line x1="488.2" y1="520.66" x2="491.2" y2="520.66" stroke="#1a1a1a" stroke-width="1.1" />
<line x1="488.2" y1="499.32" x2="491.2" y2="499.32" stroke="#1a1a1a" stroke-width="1.1" />
<line x1="488.2" y1="477.98" x2="491.2" y2="477.98" stroke="#1a1a1a" stroke-width="1.1" />
<line x1="488.2" y1="456.64" x2="491.2" y2="456.64" stroke="#1a1a1a" stroke-width="1.1" />
<line x1="488.2" y1="435.3" x2="491.2" y2="435.3" stroke="#1a1a1a" stroke-width="1.1" />
<line x1="488.2" y1="413.96" x2="491.2" y2="413.96" stroke="#1a1a1a" stroke-width="1.1" />
<line x1="488.2" y1="392.62" x2="491.2" y2="392.62" stroke="#1a1a1a" stroke-width="1.1" />
<line x1="489.6" y1="531.33" x2="491.2" y2="531.33" stroke="#1a1a1a" stroke-width="1.1" />
<line x1="489.6" y1="509.99" x2="491.2" y2="509.99" stroke="#1a1a1a" stroke-width="1.1" />
<line x1="489.6" y1="488.65" x2="491.2" y2="488.65" stroke="#1a1a1a" stroke-width="1.1" />
<line x1="489.6" y1="467.31" x2="491.2" y2="467.31" stroke="#1a1a1a" stroke-width="1.1" />
<line x1="489.6" y1="445.97" x2="491.2" y2="445.97" stroke="#1a1a1a" stroke-width="1.1" />
<line x1="489.6" y1="424.63" x2="491.2" y2="424.63" stroke="#1a1a1a" stroke-width="1.1" />
<line x1="489.6" y1="403.29" x2="491.2" y2="403.29" stroke="#1a1a1a" stroke-width="1.1" />
<text x="487.5" y="546" font-size="10" text-anchor="end" font-weight="normal" fill="#1a1a1a" >0</text>
<text x="487.5" y="524.66" font-size="10" text-anchor="end" font-weight="normal" fill="#1a1a1a" >2</text>
<text x="487.5" y="503.32" font-size="10" text-anchor="end" font-weight="normal" fill="#1a1a1a" >4</text>
<text x="487.5" y="481.98" font-size="10" text-anchor="end" font-weight="normal" fill="#1a1a1a" >6</text>
<text x="487.5" y="460.64" font-size="10" text-anchor="end" font-weight="normal" fill="#1a1a1a" >8</text>
<text x="487.5" y="439.3" font-size="10" text-anchor="end" font-weight="normal" fill="#1a1a1a" >10</text>
<text x="487.5" y="417.96" font-size="10" text-anchor="end" font-weight="normal" fill="#1a1a1a" >12</text>
<text x="487.5" y="396.62" font-size="10" text-anchor="end" font-weight="normal" fill="#1a1a1a" >14</text>
<line x1="491.7" y1="542.8" x2="491.7" y2="545.8" stroke="#1a1a1a" stroke-width="1.1" />
<line x1="527.84" y1="542.8" x2="527.84" y2="545.8" stroke="#1a1a1a" stroke-width="1.1" />
<line x1="563.98" y1="542.8" x2="563.98" y2="545.8" stroke="#1a1a1a" stroke-width="1.1" />
<line x1="600.12" y1="542.8" x2="600.12" y2="545.8" stroke="#1a1a1a" stroke-width="1.1" />
<line x1="636.26" y1="542.8" x2="636.26" y2="545.8" stroke="#1a1a1a" stroke-width="1.1" />
<line x1="672.4" y1="542.8" x2="672.4" y2="545.8" stroke="#1a1a1a" stroke-width="1.1" />
<line x1="509.77" y1="542.8" x2="509.77" y2="544.4" stroke="#1a1a1a" stroke-width="1.1" />
<line x1="545.91" y1="542.8" x2="545.91" y2="544.4" stroke="#1a1a1a" stroke-width="1.1" />
<line x1="582.05" y1="542.8" x2="582.05" y2="544.4" stroke="#1a1a1a" stroke-width="1.1" />
<line x1="618.19" y1="542.8" x2="618.19" y2="544.4" stroke="#1a1a1a" stroke-width="1.1" />
<line x1="654.33" y1="542.8" x2="654.33" y2="544.4" stroke="#1a1a1a" stroke-width="1.1" />
<text x="491.7" y="555.6" font-size="10" text-anchor="middle" font-weight="normal" fill="#1a1a1a" >0</text>
<text x="527.84" y="555.6" font-size="10" text-anchor="middle" font-weight="normal" fill="#1a1a1a" >20</text>
<text x="563.98" y="555.6" font-size="10" text-anchor="middle" font-weight="normal" fill="#1a1a1a" >40</text>
<text x="600.12" y="555.6" font-size="10" text-anchor="middle" font-weight="normal" fill="#1a1a1a" >60</text>
<text x="636.26" y="555.6" font-size="10" text-anchor="middle" font-weight="normal" fill="#1a1a1a" >80</text>
<text x="672.4" y="555.6" font-size="10" text-anchor="middle" font-weight="normal" fill="#1a1a1a" >100</text>
<line x1="587.2" y1="398.5" x2="605" y2="398.5" stroke="#444444" stroke-width="1.4" />
<text x="607.1" y="401.5" font-size="8.5" text-anchor="start" font-weight="normal" fill="#1a1a1a" >NH<tspan font-size="6" dy="2">3</tspan><tspan dy="-2">:H</tspan><tspan font-size="6" dy="2">2</tspan><tspan dy="-2">=5%:95%</tspan></text>
<line x1="587.2" y1="411.1" x2="605" y2="411.1" stroke="#ee1f84" stroke-width="1.4" />
<text x="607.1" y="414.1" font-size="8.5" text-anchor="start" font-weight="normal" fill="#1a1a1a" >NH<tspan font-size="6" dy="2">3</tspan><tspan dy="-2">:H</tspan><tspan font-size="6" dy="2">2</tspan><tspan dy="-2">=25%:75%</tspan></text>
<line x1="587.2" y1="423.5" x2="605" y2="423.5" stroke="#2a78e4" stroke-width="1.4" />
<text x="607.1" y="426.5" font-size="8.5" text-anchor="start" font-weight="normal" fill="#1a1a1a" >NH<tspan font-size="6" dy="2">3</tspan><tspan dy="-2">:H</tspan><tspan font-size="6" dy="2">2</tspan><tspan dy="-2">=50%:50%</tspan></text>
<line x1="587.2" y1="435.6" x2="605" y2="435.6" stroke="#3cb878" stroke-width="1.4" />
<text x="607.1" y="438.6" font-size="8.5" text-anchor="start" font-weight="normal" fill="#1a1a1a" >NH<tspan font-size="6" dy="2">3</tspan><tspan dy="-2">:N</tspan><tspan font-size="6" dy="2">2</tspan><tspan dy="-2">=5%:95%</tspan></text>
<line x1="587.2" y1="447.9" x2="605" y2="447.9" stroke="#c58be6" stroke-width="1.4" />
<text x="607.1" y="450.9" font-size="8.5" text-anchor="start" font-weight="normal" fill="#1a1a1a" >NH<tspan font-size="6" dy="2">3</tspan><tspan dy="-2">:N</tspan><tspan font-size="6" dy="2">2</tspan><tspan dy="-2">=25%:75%</tspan></text>
<line x1="587.2" y1="460.5" x2="605" y2="460.5" stroke="#d9a01a" stroke-width="1.4" />
<text x="607.1" y="463.5" font-size="8.5" text-anchor="start" font-weight="normal" fill="#1a1a1a" >NH<tspan font-size="6" dy="2">3</tspan><tspan dy="-2">:N</tspan><tspan font-size="6" dy="2">2</tspan><tspan dy="-2">=50%:50%</tspan></text>
<text x="490.6" y="391" font-size="10.5" text-anchor="start" font-weight="normal" fill="#1a1a1a" >×10<tspan font-size="7.5" dy="-4">3</tspan><tspan dy="4">​</tspan></text>
<text x="585" y="564.8" font-size="10.8" text-anchor="middle" font-weight="normal" fill="#1a1a1a" >P/kPa</text>
<text transform="translate(472.6,467.4) rotate(-90)" font-size="10.5" text-anchor="middle" fill="#1a1a1a">IAST selectivity</text>
<text x="463.6" y="387.5" font-size="16" text-anchor="start" font-weight="bold" fill="#000" >i</text></svg></body></html>
